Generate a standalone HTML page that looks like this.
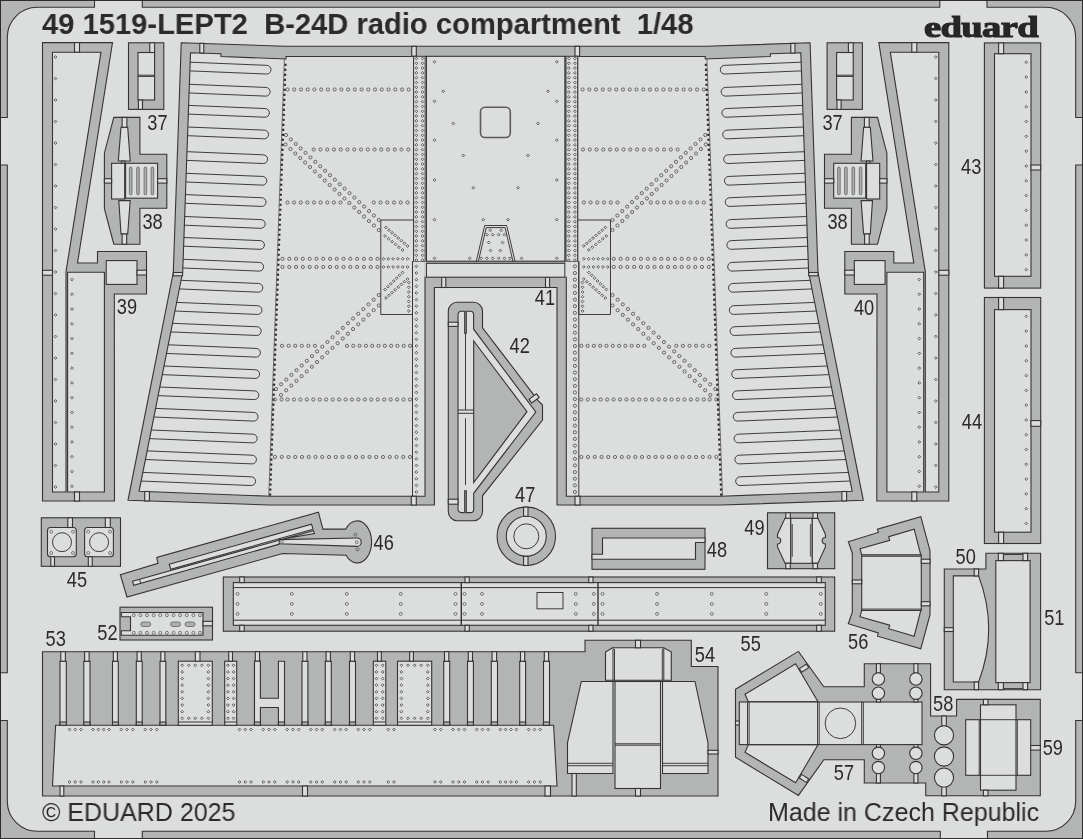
<!DOCTYPE html>
<html lang="en"><head><meta charset="utf-8"><title>49 1519-LEPT2 B-24D radio compartment 1/48</title>
<style>
html,body{margin:0;padding:0;background:#dcdddd;}
body{width:1083px;height:839px;overflow:hidden;position:relative;font-family:"Liberation Sans",sans-serif;}
svg{position:absolute;left:0;top:0;display:block;will-change:transform}
.title,.cp,.made,.logo{will-change:transform}
svg text{font-family:"Liberation Sans",sans-serif;fill:#2a2a2a}
.f{fill:#b3b5b4;stroke:#343434;stroke-width:1.1;stroke-linejoin:miter}
.p{fill:#dcdddd;stroke:#343434;stroke-width:1.1}
.t{fill:#dcdddd;stroke:none}
.t2{stroke:#dcdddd;stroke-width:1.6}
.l{stroke:#343434;stroke-width:1;fill:none}
.l2{stroke:#343434;stroke-width:1.4;fill:none}
.gl{stroke:#8c8e8d;stroke-width:1.3;fill:none}
.n{stroke:#343434;stroke-width:.95;fill:none}
.g{fill:#aeb0af;stroke:#555;stroke-width:.7}
.sq{fill:none;stroke:#5a5a5a;stroke-width:1.6}
.fold{stroke:#666;stroke-width:1.5}
.dash{stroke:#262626;stroke-width:2.3;stroke-dasharray:2.1 2.9;stroke-dashoffset:2.4}
.dl{stroke:#555;stroke-width:.8;fill:none}
.rx{stroke:#2c2c2c;stroke-width:.7;fill:none;stroke-linejoin:miter;stroke-miterlimit:10}
.rd circle{fill:none;stroke:#444;stroke-width:.45}
.ro circle{fill:none;stroke:#3a3a3a;stroke-width:.7}
.rs circle{fill:none;stroke:#3a3a3a;stroke-width:.6}
.title{position:absolute;left:41.6px;top:7.9px;transform-origin:0 0;transform:scaleX(.966);font-weight:bold;font-size:30.2px;line-height:32px;color:#2a2a2a;white-space:pre;letter-spacing:0}
.cp{position:absolute;left:42.4px;top:798px;transform-origin:0 0;transform:scaleX(.992);font-size:25.2px;line-height:28px;color:#2a2a2a;white-space:pre}
.made{position:absolute;left:768px;top:798px;transform-origin:0 0;transform:scaleX(.993);font-size:25.2px;line-height:28px;color:#2a2a2a;white-space:pre}
.logo{position:absolute;left:923.8px;top:9.2px;font-family:"Liberation Serif","DejaVu Serif",serif;font-weight:bold;font-size:29.2px;line-height:36px;color:#262626;transform-origin:0 0;transform:scale(1.322,1);-webkit-text-stroke:1.1px #262626;letter-spacing:-.5px;white-space:pre}
.bd{position:absolute;left:0;top:0;width:1081px;height:837px;border:1px solid #2c2c2c;pointer-events:none}
</style></head><body>
<svg width="1083" height="839" viewBox="0 0 1083 839">
<path class="f" d="M0,0 H94.5 V7.3 H37.5 A30,30 0 0 0 7.3,37.5 V117.5 H0 Z M1083,0 H987 V7.3 H1045.5 A30,30 0 0 1 1075.7,37.5 V117.5 H1083 Z M0,839 H94.5 V831.3 H37.5 A30,30 0 0 1 7.3,801.5 V720.5 H0 Z M1083,839 H987.5 V831.3 H1045.5 A30,30 0 0 0 1075.7,801.5 V720.5 H1083 Z M142.3,0 H939.8 V7.3 H142.3 Z M142.3,839 H940.3 V831.3 H142.3 Z M0,165 H7.3 V672.8 H0 Z M1083,165 H1075.7 V672.8 H1083 Z"/>
<polygon class="f" points="42.5,42.6 112.5,42.6 77.5,263 97.5,263 97.5,251.5 146.5,251.5 146.5,294 114.3,294 114.5,501 42.5,501"/>
<polygon class="p" points="52.5,52.2 101,52.2 66,271.8 66,492 52.5,492"/>
<polygon class="p" points="67.6,272.3 104.4,272.3 104.4,492 67.6,492"/>
<rect class="p" x="106.2" y="260.6" width="30.8" height="23.8"/>
<rect class="p" x="42.5" y="270.3" width="10" height="4.9"/>
<rect class="p" x="74.5" y="42.6" width="5" height="9.6"/>
<rect class="p" x="74.5" y="492" width="5" height="9"/>
<rect class="p" x="137" y="270.2" width="9.5" height="4.8"/>
<polygon class="f" points="113.8,117.4 139.9,117.4 139.9,154.3 166.8,154.3 166.8,208.2 139.9,208.2 139.9,244.2 113.8,244.2 104.4,208.7 104.4,153.2"/>
<polygon class="p" points="121,127.2 127.7,127.2 130.2,161 118.3,161"/>
<polygon class="p" points="118.8,200.6 130.2,200.6 127.7,234 121,234"/>
<rect class="p" x="121.5" y="161" width="3.3" height="2.3"/>
<rect class="p" x="111.6" y="163.3" width="13.1" height="35.7"/>
<rect class="p" x="125.6" y="163.3" width="32" height="34.9"/>
<rect class="g" x="129.4" y="167" width="2.6" height="27.8" rx="1.3"/>
<rect class="g" x="136.7" y="167" width="2.6" height="27.8" rx="1.3"/>
<rect class="g" x="144.1" y="167" width="2.6" height="27.8" rx="1.3"/>
<rect class="g" x="151.1" y="167" width="2.6" height="27.8" rx="1.3"/>
<rect class="p" x="122.1" y="117.4" width="4.8" height="9.8"/>
<rect class="p" x="122.1" y="234" width="4.6" height="10.2"/>
<rect class="p" x="104.4" y="178.7" width="7.2" height="4.4"/>
<rect class="p" x="157.6" y="178.7" width="9.2" height="4.4"/>
<polygon class="f" points="948.8,42.6 878.8,42.6 913.8,263 893.8,263 893.8,251.5 844.8,251.5 844.8,294 877,294 876.8,501 948.8,501"/>
<polygon class="p" points="938.8,52.2 890.3,52.2 925.3,271.8 925.3,492 938.8,492"/>
<polygon class="p" points="923.7,272.3 886.9,272.3 886.9,492 923.7,492"/>
<rect class="p" x="854.3" y="260.6" width="30.8" height="23.8"/>
<rect class="p" x="938.8" y="270.3" width="10" height="4.9"/>
<rect class="p" x="911.8" y="42.6" width="5" height="9.6"/>
<rect class="p" x="911.8" y="492" width="5" height="9"/>
<rect class="p" x="844.8" y="270.2" width="9.5" height="4.8"/>
<polygon class="f" points="877.5,117.4 851.4,117.4 851.4,154.3 824.5,154.3 824.5,208.2 851.4,208.2 851.4,244.2 877.5,244.2 886.9,208.7 886.9,153.2"/>
<polygon class="p" points="870.3,127.2 863.6,127.2 861.1,161 873,161"/>
<polygon class="p" points="872.5,200.6 861.1,200.6 863.6,234 870.3,234"/>
<rect class="p" x="866.5" y="161" width="3.3" height="2.3"/>
<rect class="p" x="866.6" y="163.3" width="13.1" height="35.7"/>
<rect class="p" x="833.7" y="163.3" width="32" height="34.9"/>
<rect class="g" x="859.3" y="167" width="2.6" height="27.8" rx="1.3"/>
<rect class="g" x="852" y="167" width="2.6" height="27.8" rx="1.3"/>
<rect class="g" x="844.6" y="167" width="2.6" height="27.8" rx="1.3"/>
<rect class="g" x="837.6" y="167" width="2.6" height="27.8" rx="1.3"/>
<rect class="p" x="864.4" y="117.4" width="4.8" height="9.8"/>
<rect class="p" x="864.6" y="234" width="4.6" height="10.2"/>
<rect class="p" x="879.7" y="178.7" width="7.2" height="4.4"/>
<rect class="p" x="824.5" y="178.7" width="9.2" height="4.4"/>
<rect class="f" x="128.5" y="42.8" width="35.3" height="66.6"/>
<rect class="p" x="138" y="52.5" width="16.6" height="47.5"/>
<line class="l" x1="138" y1="75.2" x2="154.6" y2="75.2"/>
<line class="l" x1="138" y1="76.4" x2="154.6" y2="76.4"/>
<rect class="p" x="149.8" y="42.8" width="4.8" height="9.7"/>
<rect class="p" x="138.4" y="100" width="4.1" height="9.4"/>
<rect class="f" x="827.1" y="42.8" width="35.3" height="66.6"/>
<rect class="p" x="836.6" y="52.5" width="16.6" height="47.5"/>
<line class="l" x1="836.6" y1="75.2" x2="853.2" y2="75.2"/>
<line class="l" x1="836.6" y1="76.4" x2="853.2" y2="76.4"/>
<rect class="p" x="848.4" y="42.8" width="4.8" height="9.7"/>
<rect class="p" x="837" y="100" width="4.1" height="9.4"/>
<polygon class="f" points="181.25,42.75 285,46.3 706.3,46.3 810.05,42.75 818,272.5 863.3,500.3 721.3,505 557,505 557,287.5 434.4,287.5 434.4,505 270,505 128,500.3 173.3,272.5"/>
<polygon class="p" points="190.5,52.75 221,53.75 221,56.5 286,59 286,56.5 413.7,56.5 413.7,261.2 425,261.2 425,496.25 270.4,496.25 139.1,491.3 182.7,272"/>
<rect class="p" x="199.8" y="43.3" width="4" height="9.7"/>
<rect class="p" x="411.7" y="46.3" width="4.6" height="9.9"/>
<rect class="p" x="173.3" y="272.5" width="9.3" height="3.3"/>
<rect class="p" x="144.7" y="491.5" width="4.7" height="9.4"/>
<rect class="p" x="411.3" y="496.25" width="5" height="8.75"/>
<rect class="p" x="441.7" y="277.2" width="4.1" height="10.3"/>
<line class="dash" x1="285.52" y1="61.2" x2="270" y2="495.8"/>
<line class="dl" x1="284.4" y1="58.9" x2="268.8" y2="495.8"/>
<path class="n" d="M190.16,62.2 L266.64,65.34 A4.35,4.35 0 0 1 266.64,74.04 L189.85,70.89"/>
<path class="n" d="M189.38,84.3 L265.81,87.43 A4.35,4.35 0 0 1 265.81,96.13 L189.07,92.99"/>
<path class="n" d="M188.63,105.4 L265.02,108.53 A4.35,4.35 0 0 1 265.02,117.23 L188.32,114.09"/>
<path class="n" d="M187.86,127 L264.21,130.13 A4.35,4.35 0 0 1 264.21,138.83 L187.55,135.69"/>
<path class="n" d="M186.98,151.7 L263.29,154.83 A4.35,4.35 0 0 1 263.29,163.53 L186.67,160.39"/>
<path class="n" d="M186.21,173.3 L262.48,176.43 A4.35,4.35 0 0 1 262.48,185.13 L185.9,181.99"/>
<path class="n" d="M185.45,194.6 L261.68,197.73 A4.35,4.35 0 0 1 261.68,206.43 L185.14,203.29"/>
<path class="n" d="M184.67,216.5 L260.86,219.62 A4.35,4.35 0 0 1 260.86,228.32 L184.36,225.19"/>
<path class="n" d="M183.93,237.5 L260.07,240.62 A4.35,4.35 0 0 1 260.07,249.32 L183.62,246.19"/>
<path class="n" d="M183.15,259.3 L259.25,262.42 A4.35,4.35 0 0 1 259.25,271.12 L182.84,267.99"/>
<path class="n" d="M181.05,280.3 L258.46,283.47 A4.35,4.35 0 0 1 258.46,292.17 L179.32,288.93"/>
<path class="n" d="M176.66,302.4 L257.63,305.72 A4.35,4.35 0 0 1 257.63,314.42 L174.93,311.03"/>
<path class="n" d="M172.5,323.3 L256.85,326.76 A4.35,4.35 0 0 1 256.85,335.46 L170.77,331.93"/>
<path class="n" d="M168.23,344.8 L256.04,348.4 A4.35,4.35 0 0 1 256.04,357.1 L166.5,353.43"/>
<path class="n" d="M164.01,366 L255.25,369.74 A4.35,4.35 0 0 1 255.25,378.44 L162.28,374.63"/>
<path class="n" d="M159.84,387 L254.46,390.88 A4.35,4.35 0 0 1 254.46,399.58 L158.11,395.63"/>
<path class="n" d="M155.58,408.4 L253.66,412.42 A4.35,4.35 0 0 1 253.66,421.12 L153.85,417.03"/>
<path class="n" d="M151.29,430 L252.85,434.16 A4.35,4.35 0 0 1 252.85,442.86 L149.56,438.63"/>
<path class="n" d="M147.13,450.9 L252.07,455.2 A4.35,4.35 0 0 1 252.07,463.9 L145.41,459.53"/>
<path class="n" d="M142.86,472.4 L251.26,476.84 A4.35,4.35 0 0 1 251.26,485.54 L141.13,481.03"/>
<path class="n" d="M413.7,220 L380.8,220 M380.8,220 L380.8,314.5 L412.5,314.5 L412.5,261.2"/>
<rect class="t" x="413.7" y="56.3" width="12.7" height="204.9"/>
<line class="n" x1="413.6" y1="56.3" x2="413.6" y2="261.2"/>
<line class="gl" x1="424.9" y1="56.3" x2="424.9" y2="261.2"/>
<line class="l2" x1="426.3" y1="56.3" x2="426.3" y2="261.2"/>
<line class="l" x1="413.7" y1="56.3" x2="426.4" y2="56.3"/>
<line class="n" x1="412.5" y1="261.2" x2="412.5" y2="496.25"/>
<polygon class="p" points="800.8,52.75 770.3,53.75 770.3,56.5 705.3,59 705.3,56.5 577.6,56.5 577.6,261.2 566.3,261.2 566.3,496.25 720.9,496.25 852.2,491.3 808.6,272"/>
<rect class="p" x="790.8" y="43.4" width="4.2" height="9.6"/>
<rect class="p" x="575" y="46.3" width="4.6" height="9.9"/>
<rect class="p" x="808.7" y="272.5" width="9.3" height="3.3"/>
<rect class="p" x="841.9" y="491.5" width="4.7" height="9.4"/>
<rect class="p" x="575" y="496.25" width="5" height="8.75"/>
<rect class="p" x="545.5" y="277.2" width="4.1" height="10.3"/>
<line class="dash" x1="705.78" y1="61.2" x2="721.3" y2="495.8"/>
<line class="dl" x1="706.9" y1="58.9" x2="722.5" y2="495.8"/>
<path class="n" d="M801.14,62.2 L724.66,65.34 A4.35,4.35 0 0 0 724.66,74.04 L801.45,70.89"/>
<path class="n" d="M801.92,84.3 L725.49,87.43 A4.35,4.35 0 0 0 725.49,96.13 L802.23,92.99"/>
<path class="n" d="M802.67,105.4 L726.28,108.53 A4.35,4.35 0 0 0 726.28,117.23 L802.98,114.09"/>
<path class="n" d="M803.44,127 L727.09,130.13 A4.35,4.35 0 0 0 727.09,138.83 L803.75,135.69"/>
<path class="n" d="M804.32,151.7 L728.01,154.83 A4.35,4.35 0 0 0 728.01,163.53 L804.63,160.39"/>
<path class="n" d="M805.09,173.3 L728.82,176.43 A4.35,4.35 0 0 0 728.82,185.13 L805.4,181.99"/>
<path class="n" d="M805.85,194.6 L729.62,197.73 A4.35,4.35 0 0 0 729.62,206.43 L806.16,203.29"/>
<path class="n" d="M806.63,216.5 L730.44,219.62 A4.35,4.35 0 0 0 730.44,228.32 L806.94,225.19"/>
<path class="n" d="M807.37,237.5 L731.23,240.62 A4.35,4.35 0 0 0 731.23,249.32 L807.68,246.19"/>
<path class="n" d="M808.15,259.3 L732.05,262.42 A4.35,4.35 0 0 0 732.05,271.12 L808.46,267.99"/>
<path class="n" d="M810.25,280.3 L732.84,283.47 A4.35,4.35 0 0 0 732.84,292.17 L811.98,288.93"/>
<path class="n" d="M814.64,302.4 L733.66,305.72 A4.35,4.35 0 0 0 733.66,314.42 L816.37,311.03"/>
<path class="n" d="M818.8,323.3 L734.45,326.76 A4.35,4.35 0 0 0 734.45,335.46 L820.53,331.93"/>
<path class="n" d="M823.07,344.8 L735.25,348.4 A4.35,4.35 0 0 0 735.25,357.1 L824.8,353.43"/>
<path class="n" d="M827.29,366 L736.05,369.74 A4.35,4.35 0 0 0 736.05,378.44 L829.02,374.63"/>
<path class="n" d="M831.46,387 L736.84,390.88 A4.35,4.35 0 0 0 736.84,399.58 L833.19,395.63"/>
<path class="n" d="M835.72,408.4 L737.64,412.42 A4.35,4.35 0 0 0 737.64,421.12 L837.45,417.03"/>
<path class="n" d="M840.01,430 L738.45,434.16 A4.35,4.35 0 0 0 738.45,442.86 L841.74,438.63"/>
<path class="n" d="M844.17,450.9 L739.23,455.2 A4.35,4.35 0 0 0 739.23,463.9 L845.89,459.53"/>
<path class="n" d="M848.44,472.4 L740.04,476.84 A4.35,4.35 0 0 0 740.04,485.54 L850.17,481.03"/>
<path class="n" d="M577.6,220 L610.5,220 M610.5,220 L610.5,314.5 L578.8,314.5 L578.8,261.2"/>
<rect class="t" x="564.9" y="56.3" width="12.7" height="204.9"/>
<line class="n" x1="577.7" y1="56.3" x2="577.7" y2="261.2"/>
<line class="gl" x1="566.4" y1="56.3" x2="566.4" y2="261.2"/>
<line class="l2" x1="565" y1="56.3" x2="565" y2="261.2"/>
<line class="l" x1="577.6" y1="56.3" x2="564.9" y2="56.3"/>
<line class="n" x1="578.8" y1="261.2" x2="578.8" y2="496.25"/>
<rect class="p" x="426.4" y="56.3" width="138.5" height="204.9"/>
<rect class="p" x="426.4" y="263.3" width="138.5" height="13.9"/>
<rect class="t" x="424.2" y="262" width="1.6" height="14.7"/>
<rect class="t" x="565.5" y="262" width="1.6" height="14.7"/>
<rect class="sq" x="480.5" y="107.2" width="29.8" height="30.3" rx="4.5"/>
<path class="n" d="M476.3,261.2 L484.7,225.5 L506.7,225.5 L515,261.2 M478.4,261.2 L486.3,227.6 L505.1,227.6 L512.9,261.2"/>
<path class="f" d="M448.3,311.2 A9,9 0 0 1 457.3,302.2 L473.5,302.2 A9,9 0 0 1 482.5,311.2 L482.5,327.8 L538.3,400.8 L542.5,405 L542.5,420 L482.5,495.8 L482.5,511.8 A9,9 0 0 1 473.5,520.8 L457.3,520.8 A9,9 0 0 1 448.3,511.8 Z"/>
<path class="p" d="M458,314.5 A3.3,3.3 0 0 1 461.3,311.2 L464.7,311.2 L464.7,333.3 L466.3,333.3 L466.3,311.2 L470.2,311.2 A3.4,3.4 0 0 1 473.6,314.6 L473.6,329.2 L535.8,412 L473.7,493.3 L473.7,509.2 A3.4,3.4 0 0 1 470.3,512.6 L466.3,512.6 L466.3,490.8 L464.7,490.8 L464.7,512.6 L461.3,512.6 A3.3,3.3 0 0 1 458,509.3 Z"/>
<polygon class="f" points="473.7,341 527,411.7 473.7,482.5"/>
<line class="l" x1="458" y1="410" x2="473.7" y2="410"/>
<line class="l" x1="458" y1="413.3" x2="473.7" y2="413.3"/>
<line class="n" x1="465.5" y1="418.3" x2="465.5" y2="485"/>
<line class="n" x1="465.5" y1="333.3" x2="465.5" y2="410"/>
<rect class="p" x="448.3" y="322.2" width="9.7" height="4.2"/>
<rect class="p" x="448.3" y="499.2" width="9.7" height="5"/>
<path class="p" d="M529,399.4 L536.4,393.8 L539.2,397.4 L531.8,403 Z"/>
<circle class="f" cx="526.3" cy="536.3" r="29.2"/>
<circle class="p" cx="526.3" cy="536.3" r="20"/>
<circle class="n" cx="526.3" cy="536.3" r="12.5"/>
<rect class="p" x="523.6" y="507.1" width="4.4" height="9.2"/>
<rect class="p" x="523.6" y="556.3" width="4.4" height="9.2"/>
<rect class="f" x="592" y="528.3" width="113" height="41"/>
<polygon class="p" points="592,554.3 602.5,554.3 602.5,538 705,538 705,542.5 695.5,542.5 695.5,559.3 592,559.3"/>
<rect class="f" x="767.5" y="512.8" width="67.2" height="55.9"/>
<path class="p" d="M790.8,518.3 L785,518.3 L777.5,534.2 L777.5,537.5 A3.2,3.2 0 0 1 777.5,544 L777.5,546.9 L785,563.3 L790.8,563.3 Z"/>
<path class="p" d="M812.1,518.3 L817.9,518.3 L825.4,534.2 L825.4,537.5 A3.2,3.2 0 0 0 825.4,544 L825.4,546.9 L817.9,563.3 L812.1,563.3 Z"/>
<rect class="p" x="790.8" y="518.3" width="21.3" height="45"/>
<line class="fold" x1="792.2" y1="524" x2="792.2" y2="556.7"/>
<line class="fold" x1="810.6" y1="524" x2="810.6" y2="556.7"/>
<rect class="p" x="785.8" y="512.8" width="4.5" height="5.5"/>
<rect class="p" x="785.8" y="563.3" width="4.5" height="5.4"/>
<rect class="p" x="813" y="512.8" width="4.5" height="5.5"/>
<rect class="p" x="813" y="563.3" width="4.5" height="5.4"/>
<rect class="f" x="223.3" y="577" width="611.4" height="54.2"/>
<rect class="p" x="233.3" y="582.6" width="592" height="42.7"/>
<line class="l" x1="233.3" y1="587.6" x2="825.3" y2="587.6"/>
<line class="l" x1="233.3" y1="620.2" x2="825.3" y2="620.2"/>
<rect class="p" x="239.7" y="577" width="4.5" height="5.6"/>
<rect class="p" x="239.7" y="625.3" width="4.5" height="5.9"/>
<rect class="p" x="465" y="577" width="4.3" height="5.6"/>
<rect class="p" x="465" y="625.3" width="4.3" height="5.9"/>
<rect class="p" x="588.8" y="577" width="4.2" height="5.6"/>
<rect class="p" x="588.8" y="625.3" width="4.2" height="5.9"/>
<rect class="p" x="816.7" y="577" width="4.6" height="5.6"/>
<rect class="p" x="816.7" y="625.3" width="4.6" height="5.9"/>
<line class="l2" x1="461.3" y1="582.6" x2="461.3" y2="625.3"/>
<line class="l2" x1="598" y1="582.6" x2="598" y2="625.3"/>
<rect class="n" x="537" y="592.5" width="26" height="16.3"/>
<rect class="f" x="41.3" y="517.8" width="79.2" height="48.5"/>
<rect class="p" x="47.5" y="527.5" width="28.8" height="29.2" rx="3"/>
<circle class="n" cx="62" cy="542.2" r="9.5"/>
<rect class="p" x="84.6" y="527.5" width="28.8" height="29.2" rx="3"/>
<circle class="n" cx="99.1" cy="542.2" r="9.5"/>
<rect class="p" x="67.8" y="517.8" width="4.7" height="9.7"/>
<rect class="p" x="50.8" y="556.7" width="3.7" height="9.6"/>
<rect class="p" x="105.3" y="517.8" width="5" height="9.7"/>
<rect class="p" x="88.3" y="556.7" width="3.9" height="9.6"/>
<rect class="f" x="120" y="607.2" width="92.5" height="32.8"/>
<polygon class="p" points="121.3,612.5 203,612.5 203,635.3 121.3,635.3 121.3,630.8 130.5,630.8 130.5,616.7 121.3,616.7"/>
<rect class="p" x="203" y="621.3" width="9.5" height="4.5"/>
<rect class="g" x="140.8" y="622" width="10" height="4.5" rx="2.25"/>
<rect class="g" x="170.5" y="622" width="10" height="4.5" rx="2.25"/>
<rect class="g" x="185" y="622" width="10" height="4.5" rx="2.25"/>
<path class="f" d="M120.3,574.7 L158,563.3 L156.7,557.5 L318.4,512.2 L322.9,529.1 L345.8,529.1 A14.4,21 0 1 1 346.1,555.3 L282.7,553.5 L127,597 Z"/>
<polygon class="p" points="169.2,564.2 311.5,524.2 313,529.2 170.7,569.2"/>
<polygon class="p" points="132.5,581.2 313.4,530.6 314.5,533.6 287,538.2 278.6,544.4 133.7,585.3"/>
<path class="p" d="M279.2,539.6 L357,538 A4.2,4.2 0 0 1 357,546.4 L279.2,543.7 Z"/>
<line class="n" x1="139.6" y1="579.3" x2="140.6" y2="583.2"/>
<polygon class="f" points="42.5,651.7 585,651.7 585,640.3 691.3,640.3 691.3,666.5 718,666.5 718,796 42.5,796"/>
<polygon class="p" points="55.6,725.3 553.6,725.3 557,786 52.5,786"/>
<rect class="p" x="60" y="661.2" width="6.3" height="64.1"/>
<rect class="f" x="60" y="722" width="6.3" height="3.3"/>
<rect class="p" x="60.8" y="651.7" width="4.6" height="9.5"/>
<rect class="p" x="83.8" y="661.2" width="6.2" height="64.1"/>
<rect class="f" x="83.8" y="722" width="6.2" height="3.3"/>
<rect class="p" x="84.6" y="651.7" width="4.5" height="9.5"/>
<rect class="p" x="112.5" y="661.2" width="5.8" height="64.1"/>
<rect class="f" x="112.5" y="722" width="5.8" height="3.3"/>
<rect class="p" x="113.3" y="651.7" width="4.1" height="9.5"/>
<rect class="p" x="136.3" y="661.2" width="5.9" height="64.1"/>
<rect class="f" x="136.3" y="722" width="5.9" height="3.3"/>
<rect class="p" x="137.1" y="651.7" width="4.2" height="9.5"/>
<rect class="p" x="160" y="661.2" width="5.8" height="64.1"/>
<rect class="f" x="160" y="722" width="5.8" height="3.3"/>
<rect class="p" x="160.8" y="651.7" width="4.1" height="9.5"/>
<rect class="p" x="254.5" y="661.2" width="5.9" height="64.1"/>
<rect class="f" x="254.5" y="722" width="5.9" height="3.3"/>
<rect class="p" x="255.3" y="651.7" width="4.2" height="9.5"/>
<rect class="p" x="302" y="661.2" width="5.9" height="64.1"/>
<rect class="f" x="302" y="722" width="5.9" height="3.3"/>
<rect class="p" x="302.8" y="651.7" width="4.2" height="9.5"/>
<rect class="p" x="325.3" y="661.2" width="6" height="64.1"/>
<rect class="f" x="325.3" y="722" width="6" height="3.3"/>
<rect class="p" x="326.1" y="651.7" width="4.3" height="9.5"/>
<rect class="p" x="349.5" y="661.2" width="6" height="64.1"/>
<rect class="f" x="349.5" y="722" width="6" height="3.3"/>
<rect class="p" x="350.3" y="651.7" width="4.3" height="9.5"/>
<rect class="p" x="443.7" y="661.2" width="6" height="64.1"/>
<rect class="f" x="443.7" y="722" width="6" height="3.3"/>
<rect class="p" x="444.5" y="651.7" width="4.3" height="9.5"/>
<rect class="p" x="467.5" y="661.2" width="5.9" height="64.1"/>
<rect class="f" x="467.5" y="722" width="5.9" height="3.3"/>
<rect class="p" x="468.3" y="651.7" width="4.2" height="9.5"/>
<rect class="p" x="491.3" y="661.2" width="6.2" height="64.1"/>
<rect class="f" x="491.3" y="722" width="6.2" height="3.3"/>
<rect class="p" x="492.1" y="651.7" width="4.5" height="9.5"/>
<rect class="p" x="519.7" y="661.2" width="5.9" height="64.1"/>
<rect class="f" x="519.7" y="722" width="5.9" height="3.3"/>
<rect class="p" x="520.5" y="651.7" width="4.2" height="9.5"/>
<rect class="p" x="543.5" y="661.2" width="6" height="64.1"/>
<rect class="f" x="543.5" y="722" width="6" height="3.3"/>
<rect class="p" x="544.3" y="651.7" width="4.3" height="9.5"/>
<polygon class="p" points="254.5,661.2 260.4,661.2 260.4,698.3 278.4,698.3 278.4,661.2 284.5,661.2 284.5,725.3 278.4,725.3 278.4,707.5 260.4,707.5 260.4,725.3 254.5,725.3"/>
<rect class="f" x="254.5" y="722" width="5.9" height="3.3"/>
<rect class="f" x="278.4" y="722" width="6.1" height="3.3"/>
<rect class="p" x="178.3" y="661.2" width="34" height="64.1"/>
<line class="l" x1="178.3" y1="722" x2="212.3" y2="722"/>
<rect class="p" x="195.3" y="651.7" width="4.7" height="9.5"/>
<rect class="p" x="397.5" y="661.2" width="34.2" height="64.1"/>
<line class="l" x1="397.5" y1="722" x2="431.7" y2="722"/>
<rect class="p" x="409.7" y="651.7" width="3.7" height="9.5"/>
<rect class="p" x="224.7" y="661.2" width="12" height="64.1"/>
<line class="l" x1="224.7" y1="722" x2="236.7" y2="722"/>
<rect class="p" x="228.7" y="651.7" width="3.8" height="9.5"/>
<rect class="p" x="373.3" y="661.2" width="12.5" height="64.1"/>
<line class="l" x1="373.3" y1="722" x2="385.8" y2="722"/>
<rect class="p" x="377.5" y="651.7" width="3.8" height="9.5"/>
<rect class="p" x="60" y="786" width="3.8" height="10"/>
<rect class="p" x="302.5" y="786" width="5" height="10"/>
<rect class="p" x="545" y="786" width="5.5" height="10"/>
<polygon class="p" points="605.5,652 612.5,647.8 663.8,647.8 671.3,652 671.3,680.3 605.5,680.3"/>
<line class="l" x1="613" y1="647.8" x2="613" y2="680.3"/>
<line class="n" x1="614.5" y1="649" x2="614.5" y2="680.3"/>
<line class="l" x1="663.8" y1="647.8" x2="663.8" y2="680.3"/>
<line class="n" x1="662.3" y1="649" x2="662.3" y2="680.3"/>
<rect class="t" x="612" y="681.5" width="51.5" height="92"/>
<polygon class="p" points="581.3,681.5 613,681.5 613,773.5 567.5,773.5 567.5,742.8"/>
<polygon class="p" points="662.5,681.5 695,681.5 708,742.8 708,773.5 662.5,773.5"/>
<rect class="p" x="615" y="681.5" width="45.5" height="107"/>
<line class="l" x1="613" y1="681.5" x2="662.5" y2="681.5"/>
<line class="l" x1="615" y1="743.8" x2="660.5" y2="743.8"/>
<line class="n" x1="615" y1="745.2" x2="660.5" y2="745.2"/>
<line class="n" x1="567.5" y1="763.3" x2="613" y2="763.3"/>
<line class="n" x1="567.5" y1="765.7" x2="613" y2="765.7"/>
<line class="n" x1="662.5" y1="763.3" x2="708" y2="763.3"/>
<line class="n" x1="662.5" y1="765.7" x2="708" y2="765.7"/>
<rect class="p" x="635.5" y="640.3" width="5" height="7.5"/>
<rect class="p" x="635.5" y="788.5" width="5" height="7.5"/>
<rect class="p" x="572" y="773.5" width="4.3" height="22.5"/>
<rect class="p" x="708" y="750.3" width="10" height="3.7"/>
<polygon class="f" points="848.3,541.7 878.3,532.5 877.5,529.2 920.8,516.7 930,550.8 930,614.6 920.8,648.7 877.5,636.2 878.3,632.9 848.3,623.7 852.3,612.2 852.3,553.2"/>
<polygon class="p" points="860,548.7 889.7,540.3 888.7,536.7 914.2,529.2 920.8,555 861.7,555"/>
<polygon class="p" points="860,616.7 889.7,625.1 888.7,628.7 914.2,636.2 920.8,610.4 861.7,610.4"/>
<rect class="p" x="861.7" y="555" width="59.6" height="55.4"/>
<line class="n" x1="861.7" y1="556.3" x2="921.3" y2="556.3"/>
<line class="n" x1="861.7" y1="609.1" x2="921.3" y2="609.1"/>
<rect class="p" x="852.3" y="580" width="9.4" height="3.8"/>
<rect class="p" x="921.3" y="559.2" width="8.7" height="4.1"/>
<rect class="p" x="921.3" y="601.7" width="8.7" height="4.1"/>
<rect class="f" x="984.4" y="42.9" width="56.3" height="245.2"/>
<rect class="p" x="994.5" y="53.7" width="36.5" height="222.6"/>
<rect class="p" x="998.6" y="42.9" width="5" height="10.8"/>
<rect class="p" x="998.6" y="276.3" width="5" height="11.8"/>
<rect class="p" x="1031" y="165" width="9.7" height="5"/>
<rect class="f" x="984.4" y="297.5" width="56.3" height="246"/>
<rect class="p" x="994.5" y="309.6" width="36.5" height="222.6"/>
<rect class="p" x="998.6" y="297.5" width="5" height="12.1"/>
<rect class="p" x="998.6" y="532.2" width="5" height="11.3"/>
<rect class="p" x="1031" y="420.6" width="9.7" height="5.7"/>
<polygon class="f" points="944.3,569 985.9,569 985.9,553.3 1040.6,553.3 1040.6,689.7 944.3,689.7"/>
<path class="p" d="M953.3,575.9 L978.6,575.9 Q998.8,629 978.6,682 L953.3,682 Z"/>
<rect class="p" x="974.2" y="569" width="4.4" height="6.9"/>
<rect class="p" x="974.2" y="682" width="4.4" height="7.7"/>
<rect class="p" x="944.3" y="627.7" width="9" height="3.8"/>
<rect class="p" x="995.8" y="560.6" width="34.3" height="122"/>
<rect class="p" x="998.3" y="553.3" width="5.1" height="7.3"/>
<rect class="p" x="998.3" y="682.6" width="5.1" height="7.1"/>
<rect class="p" x="1023" y="553.3" width="4.6" height="7.3"/>
<rect class="p" x="1023" y="682.6" width="4.6" height="7.1"/>
<line class="n" x1="1003.4" y1="554.5" x2="1023" y2="554.5"/>
<line class="n" x1="1003.4" y1="688.6" x2="1023" y2="688.6"/>
<polygon class="f" points="735.5,689.2 798.4,651.4 823.8,686.7 864.3,686.7 864.3,663.7 930.6,663.7 930.6,716 956.6,716 956.6,699.4 1040.3,699.4 1040.3,795.8 925.7,795.8 925.7,783 864.3,783 864.3,759.8 823.8,759.8 798.4,795.4 735.5,757.3"/>
<polygon class="p" points="745,694.3 795.6,663.8 818,701.8 748.3,701.8"/>
<polygon class="p" points="745,752.3 795.6,782.8 818,744.8 748.3,744.8"/>
<rect class="p" x="739.3" y="702" width="182.7" height="42.6"/>
<line class="n" x1="747.5" y1="702" x2="747.5" y2="744.6"/>
<line class="n" x1="749.1" y1="702" x2="749.1" y2="744.6"/>
<line class="n" x1="817.6" y1="702" x2="817.6" y2="744.6"/>
<line class="n" x1="819.2" y1="702" x2="819.2" y2="744.6"/>
<line class="n" x1="861.7" y1="702" x2="861.7" y2="744.6"/>
<line class="n" x1="863.3" y1="702" x2="863.3" y2="744.6"/>
<circle class="n" cx="840.4" cy="723.3" r="15.3"/>
<rect class="p" x="735.5" y="721" width="3.8" height="4"/>
<path class="p" d="M799.3,668.6 L806.5,664 L808.7,667.6 L801.6,672.2 Z"/>
<path class="p" d="M799.3,778 L806.5,782.6 L808.7,779 L801.6,774.4 Z"/>
<rect class="p" x="876.4" y="663.7" width="4" height="9.3"/>
<rect class="p" x="876.4" y="699" width="4" height="3"/>
<rect class="p" x="876.4" y="744.6" width="4" height="2.9"/>
<rect class="p" x="876.4" y="773.5" width="4" height="9.5"/>
<circle class="p" cx="878.4" cy="679" r="6.2"/>
<circle class="p" cx="878.4" cy="693.2" r="6.2"/>
<circle class="p" cx="878.4" cy="753.3" r="6.2"/>
<circle class="p" cx="878.4" cy="767.6" r="6.2"/>
<rect class="p" x="913.9" y="663.7" width="4" height="9.3"/>
<rect class="p" x="913.9" y="699" width="4" height="3"/>
<rect class="p" x="913.9" y="744.6" width="4" height="2.9"/>
<rect class="p" x="913.9" y="773.5" width="4" height="9.5"/>
<circle class="p" cx="915.9" cy="679" r="6.2"/>
<circle class="p" cx="915.9" cy="693.2" r="6.2"/>
<circle class="p" cx="915.9" cy="753.3" r="6.2"/>
<circle class="p" cx="915.9" cy="767.6" r="6.2"/>
<rect class="p" x="941.8" y="716" width="4.5" height="10"/>
<rect class="p" x="941.8" y="786.5" width="4.5" height="9.3"/>
<circle class="p" cx="944" cy="735.3" r="9.6"/>
<circle class="p" cx="944" cy="756.5" r="9.6"/>
<circle class="p" cx="944" cy="777.6" r="9.6"/>
<rect class="p" x="965.7" y="719.7" width="65" height="55.6"/>
<rect class="p" x="980.5" y="704.8" width="35.5" height="85.4"/>
<line class="n" x1="980.5" y1="719.7" x2="1016" y2="719.7"/>
<line class="n" x1="980.5" y1="775.3" x2="1016" y2="775.3"/>
<line class="n" x1="1017.3" y1="719.7" x2="1017.3" y2="775.3"/>
<line class="n" x1="979.2" y1="719.7" x2="979.2" y2="775.3"/>
<rect class="p" x="983.4" y="699.4" width="4.6" height="5.4"/>
<rect class="p" x="983.4" y="790.2" width="4.6" height="5.6"/>
<rect class="p" x="1030.7" y="745.5" width="9.6" height="4.6"/>
<path class="rx" d="M54.1,57l1.4,-1.4l1.4,1.4l-1.4,1.4zM54.1,78.5l1.4,-1.4l1.4,1.4l-1.4,1.4zM54.1,100l1.4,-1.4l1.4,1.4l-1.4,1.4zM54.1,121.5l1.4,-1.4l1.4,1.4l-1.4,1.4zM54.1,143l1.4,-1.4l1.4,1.4l-1.4,1.4zM54.1,164.5l1.4,-1.4l1.4,1.4l-1.4,1.4zM54.1,186l1.4,-1.4l1.4,1.4l-1.4,1.4zM54.1,207.5l1.4,-1.4l1.4,1.4l-1.4,1.4zM54.1,229l1.4,-1.4l1.4,1.4l-1.4,1.4zM54.1,250.5l1.4,-1.4l1.4,1.4l-1.4,1.4zM54.1,272l1.4,-1.4l1.4,1.4l-1.4,1.4zM54.1,293.5l1.4,-1.4l1.4,1.4l-1.4,1.4zM54.1,315l1.4,-1.4l1.4,1.4l-1.4,1.4zM54.1,336.5l1.4,-1.4l1.4,1.4l-1.4,1.4zM54.1,358l1.4,-1.4l1.4,1.4l-1.4,1.4zM54.1,379.5l1.4,-1.4l1.4,1.4l-1.4,1.4zM54.1,401l1.4,-1.4l1.4,1.4l-1.4,1.4zM54.1,422.5l1.4,-1.4l1.4,1.4l-1.4,1.4zM54.1,444l1.4,-1.4l1.4,1.4l-1.4,1.4zM54.1,465.5l1.4,-1.4l1.4,1.4l-1.4,1.4zM54.1,487l1.4,-1.4l1.4,1.4l-1.4,1.4zM70.6,279.5l1.4,-1.4l1.4,1.4l-1.4,1.4zM70.6,294.27l1.4,-1.4l1.4,1.4l-1.4,1.4zM70.6,309.04l1.4,-1.4l1.4,1.4l-1.4,1.4zM70.6,323.81l1.4,-1.4l1.4,1.4l-1.4,1.4zM70.6,338.58l1.4,-1.4l1.4,1.4l-1.4,1.4zM70.6,353.35l1.4,-1.4l1.4,1.4l-1.4,1.4zM70.6,368.12l1.4,-1.4l1.4,1.4l-1.4,1.4zM70.6,382.89l1.4,-1.4l1.4,1.4l-1.4,1.4zM70.6,397.66l1.4,-1.4l1.4,1.4l-1.4,1.4zM70.6,412.43l1.4,-1.4l1.4,1.4l-1.4,1.4zM70.6,427.2l1.4,-1.4l1.4,1.4l-1.4,1.4zM70.6,441.97l1.4,-1.4l1.4,1.4l-1.4,1.4zM70.6,456.74l1.4,-1.4l1.4,1.4l-1.4,1.4zM70.6,471.51l1.4,-1.4l1.4,1.4l-1.4,1.4zM70.6,486.28l1.4,-1.4l1.4,1.4l-1.4,1.4zM934.4,57l1.4,-1.4l1.4,1.4l-1.4,1.4zM934.4,78.5l1.4,-1.4l1.4,1.4l-1.4,1.4zM934.4,100l1.4,-1.4l1.4,1.4l-1.4,1.4zM934.4,121.5l1.4,-1.4l1.4,1.4l-1.4,1.4zM934.4,143l1.4,-1.4l1.4,1.4l-1.4,1.4zM934.4,164.5l1.4,-1.4l1.4,1.4l-1.4,1.4zM934.4,186l1.4,-1.4l1.4,1.4l-1.4,1.4zM934.4,207.5l1.4,-1.4l1.4,1.4l-1.4,1.4zM934.4,229l1.4,-1.4l1.4,1.4l-1.4,1.4zM934.4,250.5l1.4,-1.4l1.4,1.4l-1.4,1.4zM934.4,272l1.4,-1.4l1.4,1.4l-1.4,1.4zM934.4,293.5l1.4,-1.4l1.4,1.4l-1.4,1.4zM934.4,315l1.4,-1.4l1.4,1.4l-1.4,1.4zM934.4,336.5l1.4,-1.4l1.4,1.4l-1.4,1.4zM934.4,358l1.4,-1.4l1.4,1.4l-1.4,1.4zM934.4,379.5l1.4,-1.4l1.4,1.4l-1.4,1.4zM934.4,401l1.4,-1.4l1.4,1.4l-1.4,1.4zM934.4,422.5l1.4,-1.4l1.4,1.4l-1.4,1.4zM934.4,444l1.4,-1.4l1.4,1.4l-1.4,1.4zM934.4,465.5l1.4,-1.4l1.4,1.4l-1.4,1.4zM934.4,487l1.4,-1.4l1.4,1.4l-1.4,1.4zM917.9,279.5l1.4,-1.4l1.4,1.4l-1.4,1.4zM917.9,294.27l1.4,-1.4l1.4,1.4l-1.4,1.4zM917.9,309.04l1.4,-1.4l1.4,1.4l-1.4,1.4zM917.9,323.81l1.4,-1.4l1.4,1.4l-1.4,1.4zM917.9,338.58l1.4,-1.4l1.4,1.4l-1.4,1.4zM917.9,353.35l1.4,-1.4l1.4,1.4l-1.4,1.4zM917.9,368.12l1.4,-1.4l1.4,1.4l-1.4,1.4zM917.9,382.89l1.4,-1.4l1.4,1.4l-1.4,1.4zM917.9,397.66l1.4,-1.4l1.4,1.4l-1.4,1.4zM917.9,412.43l1.4,-1.4l1.4,1.4l-1.4,1.4zM917.9,427.2l1.4,-1.4l1.4,1.4l-1.4,1.4zM917.9,441.97l1.4,-1.4l1.4,1.4l-1.4,1.4zM917.9,456.74l1.4,-1.4l1.4,1.4l-1.4,1.4zM917.9,471.51l1.4,-1.4l1.4,1.4l-1.4,1.4zM917.9,486.28l1.4,-1.4l1.4,1.4l-1.4,1.4zM415,266.4l1.4,-1.4l1.4,1.4l-1.4,1.4zM415,273.04l1.4,-1.4l1.4,1.4l-1.4,1.4zM415,279.67l1.4,-1.4l1.4,1.4l-1.4,1.4zM415,286.31l1.4,-1.4l1.4,1.4l-1.4,1.4zM415,292.94l1.4,-1.4l1.4,1.4l-1.4,1.4zM415,299.58l1.4,-1.4l1.4,1.4l-1.4,1.4zM415,306.21l1.4,-1.4l1.4,1.4l-1.4,1.4zM415,312.85l1.4,-1.4l1.4,1.4l-1.4,1.4zM415,319.48l1.4,-1.4l1.4,1.4l-1.4,1.4zM415,326.12l1.4,-1.4l1.4,1.4l-1.4,1.4zM415,332.75l1.4,-1.4l1.4,1.4l-1.4,1.4zM415,339.39l1.4,-1.4l1.4,1.4l-1.4,1.4zM415,346.02l1.4,-1.4l1.4,1.4l-1.4,1.4zM415,352.66l1.4,-1.4l1.4,1.4l-1.4,1.4zM415,359.29l1.4,-1.4l1.4,1.4l-1.4,1.4zM415,365.93l1.4,-1.4l1.4,1.4l-1.4,1.4zM415,372.56l1.4,-1.4l1.4,1.4l-1.4,1.4zM415,379.2l1.4,-1.4l1.4,1.4l-1.4,1.4zM415,385.84l1.4,-1.4l1.4,1.4l-1.4,1.4zM415,392.47l1.4,-1.4l1.4,1.4l-1.4,1.4zM415,399.11l1.4,-1.4l1.4,1.4l-1.4,1.4zM415,405.74l1.4,-1.4l1.4,1.4l-1.4,1.4zM415,412.38l1.4,-1.4l1.4,1.4l-1.4,1.4zM415,419.01l1.4,-1.4l1.4,1.4l-1.4,1.4zM415,425.65l1.4,-1.4l1.4,1.4l-1.4,1.4zM415,432.28l1.4,-1.4l1.4,1.4l-1.4,1.4zM415,438.92l1.4,-1.4l1.4,1.4l-1.4,1.4zM415,445.55l1.4,-1.4l1.4,1.4l-1.4,1.4zM415,452.19l1.4,-1.4l1.4,1.4l-1.4,1.4zM415,458.82l1.4,-1.4l1.4,1.4l-1.4,1.4zM415,465.46l1.4,-1.4l1.4,1.4l-1.4,1.4zM415,472.09l1.4,-1.4l1.4,1.4l-1.4,1.4zM415,478.73l1.4,-1.4l1.4,1.4l-1.4,1.4zM415,485.36l1.4,-1.4l1.4,1.4l-1.4,1.4zM415,492l1.4,-1.4l1.4,1.4l-1.4,1.4zM384.6,227.5l1.4,-1.4l1.4,1.4l-1.4,1.4zM387.67,230.14l1.4,-1.4l1.4,1.4l-1.4,1.4zM390.74,232.79l1.4,-1.4l1.4,1.4l-1.4,1.4zM393.81,235.43l1.4,-1.4l1.4,1.4l-1.4,1.4zM396.89,238.07l1.4,-1.4l1.4,1.4l-1.4,1.4zM399.96,240.71l1.4,-1.4l1.4,1.4l-1.4,1.4zM403.03,243.36l1.4,-1.4l1.4,1.4l-1.4,1.4zM406.1,246l1.4,-1.4l1.4,1.4l-1.4,1.4zM383.6,236l1.4,-1.4l1.4,1.4l-1.4,1.4zM387.1,238.8l1.4,-1.4l1.4,1.4l-1.4,1.4zM390.6,241.6l1.4,-1.4l1.4,1.4l-1.4,1.4zM394.1,244.4l1.4,-1.4l1.4,1.4l-1.4,1.4zM397.6,247.2l1.4,-1.4l1.4,1.4l-1.4,1.4zM401.1,250l1.4,-1.4l1.4,1.4l-1.4,1.4zM401.1,272.5l1.4,-1.4l1.4,1.4l-1.4,1.4zM398.18,275.33l1.4,-1.4l1.4,1.4l-1.4,1.4zM395.27,278.17l1.4,-1.4l1.4,1.4l-1.4,1.4zM392.35,281l1.4,-1.4l1.4,1.4l-1.4,1.4zM389.43,283.83l1.4,-1.4l1.4,1.4l-1.4,1.4zM386.52,286.67l1.4,-1.4l1.4,1.4l-1.4,1.4zM383.6,289.5l1.4,-1.4l1.4,1.4l-1.4,1.4zM406.1,279l1.4,-1.4l1.4,1.4l-1.4,1.4zM403.03,281.71l1.4,-1.4l1.4,1.4l-1.4,1.4zM399.96,284.43l1.4,-1.4l1.4,1.4l-1.4,1.4zM396.89,287.14l1.4,-1.4l1.4,1.4l-1.4,1.4zM393.81,289.86l1.4,-1.4l1.4,1.4l-1.4,1.4zM390.74,292.57l1.4,-1.4l1.4,1.4l-1.4,1.4zM387.67,295.29l1.4,-1.4l1.4,1.4l-1.4,1.4zM384.6,298l1.4,-1.4l1.4,1.4l-1.4,1.4zM382.1,258.8l1.4,-1.4l1.4,1.4l-1.4,1.4zM382.1,267l1.4,-1.4l1.4,1.4l-1.4,1.4zM386.9,258.8l1.4,-1.4l1.4,1.4l-1.4,1.4zM386.9,267l1.4,-1.4l1.4,1.4l-1.4,1.4zM391.7,258.8l1.4,-1.4l1.4,1.4l-1.4,1.4zM391.7,267l1.4,-1.4l1.4,1.4l-1.4,1.4zM396.5,258.8l1.4,-1.4l1.4,1.4l-1.4,1.4zM396.5,267l1.4,-1.4l1.4,1.4l-1.4,1.4zM401.3,258.8l1.4,-1.4l1.4,1.4l-1.4,1.4zM401.3,267l1.4,-1.4l1.4,1.4l-1.4,1.4zM406.1,258.8l1.4,-1.4l1.4,1.4l-1.4,1.4zM406.1,267l1.4,-1.4l1.4,1.4l-1.4,1.4zM407.4,282.5l1.4,-1.4l1.4,1.4l-1.4,1.4zM407.4,287.25l1.4,-1.4l1.4,1.4l-1.4,1.4zM407.4,292l1.4,-1.4l1.4,1.4l-1.4,1.4zM407.4,296.75l1.4,-1.4l1.4,1.4l-1.4,1.4zM407.4,301.5l1.4,-1.4l1.4,1.4l-1.4,1.4zM407.4,306.25l1.4,-1.4l1.4,1.4l-1.4,1.4zM407.4,311l1.4,-1.4l1.4,1.4l-1.4,1.4zM415,58.5l1.4,-1.4l1.4,1.4l-1.4,1.4zM421.1,58.5l1.4,-1.4l1.4,1.4l-1.4,1.4zM415,63.3l1.4,-1.4l1.4,1.4l-1.4,1.4zM421.1,63.3l1.4,-1.4l1.4,1.4l-1.4,1.4zM415,68.1l1.4,-1.4l1.4,1.4l-1.4,1.4zM421.1,68.1l1.4,-1.4l1.4,1.4l-1.4,1.4zM415,72.9l1.4,-1.4l1.4,1.4l-1.4,1.4zM421.1,72.9l1.4,-1.4l1.4,1.4l-1.4,1.4zM415,77.7l1.4,-1.4l1.4,1.4l-1.4,1.4zM421.1,77.7l1.4,-1.4l1.4,1.4l-1.4,1.4zM415,82.5l1.4,-1.4l1.4,1.4l-1.4,1.4zM421.1,82.5l1.4,-1.4l1.4,1.4l-1.4,1.4zM415,87.3l1.4,-1.4l1.4,1.4l-1.4,1.4zM421.1,87.3l1.4,-1.4l1.4,1.4l-1.4,1.4zM415,92.1l1.4,-1.4l1.4,1.4l-1.4,1.4zM421.1,92.1l1.4,-1.4l1.4,1.4l-1.4,1.4zM415,96.9l1.4,-1.4l1.4,1.4l-1.4,1.4zM421.1,96.9l1.4,-1.4l1.4,1.4l-1.4,1.4zM415,101.7l1.4,-1.4l1.4,1.4l-1.4,1.4zM421.1,101.7l1.4,-1.4l1.4,1.4l-1.4,1.4zM415,106.5l1.4,-1.4l1.4,1.4l-1.4,1.4zM421.1,106.5l1.4,-1.4l1.4,1.4l-1.4,1.4zM415,111.3l1.4,-1.4l1.4,1.4l-1.4,1.4zM421.1,111.3l1.4,-1.4l1.4,1.4l-1.4,1.4zM415,116.1l1.4,-1.4l1.4,1.4l-1.4,1.4zM421.1,116.1l1.4,-1.4l1.4,1.4l-1.4,1.4zM415,120.9l1.4,-1.4l1.4,1.4l-1.4,1.4zM421.1,120.9l1.4,-1.4l1.4,1.4l-1.4,1.4zM415,125.7l1.4,-1.4l1.4,1.4l-1.4,1.4zM421.1,125.7l1.4,-1.4l1.4,1.4l-1.4,1.4zM415,130.5l1.4,-1.4l1.4,1.4l-1.4,1.4zM421.1,130.5l1.4,-1.4l1.4,1.4l-1.4,1.4zM415,135.3l1.4,-1.4l1.4,1.4l-1.4,1.4zM421.1,135.3l1.4,-1.4l1.4,1.4l-1.4,1.4zM415,140.1l1.4,-1.4l1.4,1.4l-1.4,1.4zM421.1,140.1l1.4,-1.4l1.4,1.4l-1.4,1.4zM415,144.9l1.4,-1.4l1.4,1.4l-1.4,1.4zM421.1,144.9l1.4,-1.4l1.4,1.4l-1.4,1.4zM415,149.7l1.4,-1.4l1.4,1.4l-1.4,1.4zM421.1,149.7l1.4,-1.4l1.4,1.4l-1.4,1.4zM415,154.5l1.4,-1.4l1.4,1.4l-1.4,1.4zM421.1,154.5l1.4,-1.4l1.4,1.4l-1.4,1.4zM415,159.3l1.4,-1.4l1.4,1.4l-1.4,1.4zM421.1,159.3l1.4,-1.4l1.4,1.4l-1.4,1.4zM415,164.1l1.4,-1.4l1.4,1.4l-1.4,1.4zM421.1,164.1l1.4,-1.4l1.4,1.4l-1.4,1.4zM415,168.9l1.4,-1.4l1.4,1.4l-1.4,1.4zM421.1,168.9l1.4,-1.4l1.4,1.4l-1.4,1.4zM415,173.7l1.4,-1.4l1.4,1.4l-1.4,1.4zM421.1,173.7l1.4,-1.4l1.4,1.4l-1.4,1.4zM415,178.5l1.4,-1.4l1.4,1.4l-1.4,1.4zM421.1,178.5l1.4,-1.4l1.4,1.4l-1.4,1.4zM415,183.3l1.4,-1.4l1.4,1.4l-1.4,1.4zM421.1,183.3l1.4,-1.4l1.4,1.4l-1.4,1.4zM415,188.1l1.4,-1.4l1.4,1.4l-1.4,1.4zM421.1,188.1l1.4,-1.4l1.4,1.4l-1.4,1.4zM415,192.9l1.4,-1.4l1.4,1.4l-1.4,1.4zM421.1,192.9l1.4,-1.4l1.4,1.4l-1.4,1.4zM415,197.7l1.4,-1.4l1.4,1.4l-1.4,1.4zM421.1,197.7l1.4,-1.4l1.4,1.4l-1.4,1.4zM415,202.5l1.4,-1.4l1.4,1.4l-1.4,1.4zM421.1,202.5l1.4,-1.4l1.4,1.4l-1.4,1.4zM415,207.3l1.4,-1.4l1.4,1.4l-1.4,1.4zM421.1,207.3l1.4,-1.4l1.4,1.4l-1.4,1.4zM415,212.1l1.4,-1.4l1.4,1.4l-1.4,1.4zM421.1,212.1l1.4,-1.4l1.4,1.4l-1.4,1.4zM415,216.9l1.4,-1.4l1.4,1.4l-1.4,1.4zM421.1,216.9l1.4,-1.4l1.4,1.4l-1.4,1.4zM415,221.7l1.4,-1.4l1.4,1.4l-1.4,1.4zM421.1,221.7l1.4,-1.4l1.4,1.4l-1.4,1.4zM415,226.5l1.4,-1.4l1.4,1.4l-1.4,1.4zM421.1,226.5l1.4,-1.4l1.4,1.4l-1.4,1.4zM415,231.3l1.4,-1.4l1.4,1.4l-1.4,1.4zM421.1,231.3l1.4,-1.4l1.4,1.4l-1.4,1.4zM415,236.1l1.4,-1.4l1.4,1.4l-1.4,1.4zM421.1,236.1l1.4,-1.4l1.4,1.4l-1.4,1.4zM415,240.9l1.4,-1.4l1.4,1.4l-1.4,1.4zM421.1,240.9l1.4,-1.4l1.4,1.4l-1.4,1.4zM415,245.7l1.4,-1.4l1.4,1.4l-1.4,1.4zM421.1,245.7l1.4,-1.4l1.4,1.4l-1.4,1.4zM415,250.5l1.4,-1.4l1.4,1.4l-1.4,1.4zM421.1,250.5l1.4,-1.4l1.4,1.4l-1.4,1.4zM415,255.3l1.4,-1.4l1.4,1.4l-1.4,1.4zM421.1,255.3l1.4,-1.4l1.4,1.4l-1.4,1.4zM415,260.1l1.4,-1.4l1.4,1.4l-1.4,1.4zM421.1,260.1l1.4,-1.4l1.4,1.4l-1.4,1.4zM603.9,227.5l1.4,-1.4l1.4,1.4l-1.4,1.4zM600.83,230.14l1.4,-1.4l1.4,1.4l-1.4,1.4zM597.76,232.79l1.4,-1.4l1.4,1.4l-1.4,1.4zM594.69,235.43l1.4,-1.4l1.4,1.4l-1.4,1.4zM591.61,238.07l1.4,-1.4l1.4,1.4l-1.4,1.4zM588.54,240.71l1.4,-1.4l1.4,1.4l-1.4,1.4zM585.47,243.36l1.4,-1.4l1.4,1.4l-1.4,1.4zM582.4,246l1.4,-1.4l1.4,1.4l-1.4,1.4zM604.9,236l1.4,-1.4l1.4,1.4l-1.4,1.4zM601.4,238.8l1.4,-1.4l1.4,1.4l-1.4,1.4zM597.9,241.6l1.4,-1.4l1.4,1.4l-1.4,1.4zM594.4,244.4l1.4,-1.4l1.4,1.4l-1.4,1.4zM590.9,247.2l1.4,-1.4l1.4,1.4l-1.4,1.4zM587.4,250l1.4,-1.4l1.4,1.4l-1.4,1.4zM587.4,272.5l1.4,-1.4l1.4,1.4l-1.4,1.4zM590.32,275.33l1.4,-1.4l1.4,1.4l-1.4,1.4zM593.23,278.17l1.4,-1.4l1.4,1.4l-1.4,1.4zM596.15,281l1.4,-1.4l1.4,1.4l-1.4,1.4zM599.07,283.83l1.4,-1.4l1.4,1.4l-1.4,1.4zM601.98,286.67l1.4,-1.4l1.4,1.4l-1.4,1.4zM604.9,289.5l1.4,-1.4l1.4,1.4l-1.4,1.4zM582.4,279l1.4,-1.4l1.4,1.4l-1.4,1.4zM585.47,281.71l1.4,-1.4l1.4,1.4l-1.4,1.4zM588.54,284.43l1.4,-1.4l1.4,1.4l-1.4,1.4zM591.61,287.14l1.4,-1.4l1.4,1.4l-1.4,1.4zM594.69,289.86l1.4,-1.4l1.4,1.4l-1.4,1.4zM597.76,292.57l1.4,-1.4l1.4,1.4l-1.4,1.4zM600.83,295.29l1.4,-1.4l1.4,1.4l-1.4,1.4zM603.9,298l1.4,-1.4l1.4,1.4l-1.4,1.4zM606.4,258.8l1.4,-1.4l1.4,1.4l-1.4,1.4zM606.4,267l1.4,-1.4l1.4,1.4l-1.4,1.4zM601.6,258.8l1.4,-1.4l1.4,1.4l-1.4,1.4zM601.6,267l1.4,-1.4l1.4,1.4l-1.4,1.4zM596.8,258.8l1.4,-1.4l1.4,1.4l-1.4,1.4zM596.8,267l1.4,-1.4l1.4,1.4l-1.4,1.4zM592,258.8l1.4,-1.4l1.4,1.4l-1.4,1.4zM592,267l1.4,-1.4l1.4,1.4l-1.4,1.4zM587.2,258.8l1.4,-1.4l1.4,1.4l-1.4,1.4zM587.2,267l1.4,-1.4l1.4,1.4l-1.4,1.4zM582.4,258.8l1.4,-1.4l1.4,1.4l-1.4,1.4zM582.4,267l1.4,-1.4l1.4,1.4l-1.4,1.4zM581.1,282.5l1.4,-1.4l1.4,1.4l-1.4,1.4zM581.1,287.25l1.4,-1.4l1.4,1.4l-1.4,1.4zM581.1,292l1.4,-1.4l1.4,1.4l-1.4,1.4zM581.1,296.75l1.4,-1.4l1.4,1.4l-1.4,1.4zM581.1,301.5l1.4,-1.4l1.4,1.4l-1.4,1.4zM581.1,306.25l1.4,-1.4l1.4,1.4l-1.4,1.4zM581.1,311l1.4,-1.4l1.4,1.4l-1.4,1.4zM573.5,58.5l1.4,-1.4l1.4,1.4l-1.4,1.4zM567.4,58.5l1.4,-1.4l1.4,1.4l-1.4,1.4zM573.5,63.3l1.4,-1.4l1.4,1.4l-1.4,1.4zM567.4,63.3l1.4,-1.4l1.4,1.4l-1.4,1.4zM573.5,68.1l1.4,-1.4l1.4,1.4l-1.4,1.4zM567.4,68.1l1.4,-1.4l1.4,1.4l-1.4,1.4zM573.5,72.9l1.4,-1.4l1.4,1.4l-1.4,1.4zM567.4,72.9l1.4,-1.4l1.4,1.4l-1.4,1.4zM573.5,77.7l1.4,-1.4l1.4,1.4l-1.4,1.4zM567.4,77.7l1.4,-1.4l1.4,1.4l-1.4,1.4zM573.5,82.5l1.4,-1.4l1.4,1.4l-1.4,1.4zM567.4,82.5l1.4,-1.4l1.4,1.4l-1.4,1.4zM573.5,87.3l1.4,-1.4l1.4,1.4l-1.4,1.4zM567.4,87.3l1.4,-1.4l1.4,1.4l-1.4,1.4zM573.5,92.1l1.4,-1.4l1.4,1.4l-1.4,1.4zM567.4,92.1l1.4,-1.4l1.4,1.4l-1.4,1.4zM573.5,96.9l1.4,-1.4l1.4,1.4l-1.4,1.4zM567.4,96.9l1.4,-1.4l1.4,1.4l-1.4,1.4zM573.5,101.7l1.4,-1.4l1.4,1.4l-1.4,1.4zM567.4,101.7l1.4,-1.4l1.4,1.4l-1.4,1.4zM573.5,106.5l1.4,-1.4l1.4,1.4l-1.4,1.4zM567.4,106.5l1.4,-1.4l1.4,1.4l-1.4,1.4zM573.5,111.3l1.4,-1.4l1.4,1.4l-1.4,1.4zM567.4,111.3l1.4,-1.4l1.4,1.4l-1.4,1.4zM573.5,116.1l1.4,-1.4l1.4,1.4l-1.4,1.4zM567.4,116.1l1.4,-1.4l1.4,1.4l-1.4,1.4zM573.5,120.9l1.4,-1.4l1.4,1.4l-1.4,1.4zM567.4,120.9l1.4,-1.4l1.4,1.4l-1.4,1.4zM573.5,125.7l1.4,-1.4l1.4,1.4l-1.4,1.4zM567.4,125.7l1.4,-1.4l1.4,1.4l-1.4,1.4zM573.5,130.5l1.4,-1.4l1.4,1.4l-1.4,1.4zM567.4,130.5l1.4,-1.4l1.4,1.4l-1.4,1.4zM573.5,135.3l1.4,-1.4l1.4,1.4l-1.4,1.4zM567.4,135.3l1.4,-1.4l1.4,1.4l-1.4,1.4zM573.5,140.1l1.4,-1.4l1.4,1.4l-1.4,1.4zM567.4,140.1l1.4,-1.4l1.4,1.4l-1.4,1.4zM573.5,144.9l1.4,-1.4l1.4,1.4l-1.4,1.4zM567.4,144.9l1.4,-1.4l1.4,1.4l-1.4,1.4zM573.5,149.7l1.4,-1.4l1.4,1.4l-1.4,1.4zM567.4,149.7l1.4,-1.4l1.4,1.4l-1.4,1.4zM573.5,154.5l1.4,-1.4l1.4,1.4l-1.4,1.4zM567.4,154.5l1.4,-1.4l1.4,1.4l-1.4,1.4zM573.5,159.3l1.4,-1.4l1.4,1.4l-1.4,1.4zM567.4,159.3l1.4,-1.4l1.4,1.4l-1.4,1.4zM573.5,164.1l1.4,-1.4l1.4,1.4l-1.4,1.4zM567.4,164.1l1.4,-1.4l1.4,1.4l-1.4,1.4zM573.5,168.9l1.4,-1.4l1.4,1.4l-1.4,1.4zM567.4,168.9l1.4,-1.4l1.4,1.4l-1.4,1.4zM573.5,173.7l1.4,-1.4l1.4,1.4l-1.4,1.4zM567.4,173.7l1.4,-1.4l1.4,1.4l-1.4,1.4zM573.5,178.5l1.4,-1.4l1.4,1.4l-1.4,1.4zM567.4,178.5l1.4,-1.4l1.4,1.4l-1.4,1.4zM573.5,183.3l1.4,-1.4l1.4,1.4l-1.4,1.4zM567.4,183.3l1.4,-1.4l1.4,1.4l-1.4,1.4zM573.5,188.1l1.4,-1.4l1.4,1.4l-1.4,1.4zM567.4,188.1l1.4,-1.4l1.4,1.4l-1.4,1.4zM573.5,192.9l1.4,-1.4l1.4,1.4l-1.4,1.4zM567.4,192.9l1.4,-1.4l1.4,1.4l-1.4,1.4zM573.5,197.7l1.4,-1.4l1.4,1.4l-1.4,1.4zM567.4,197.7l1.4,-1.4l1.4,1.4l-1.4,1.4zM573.5,202.5l1.4,-1.4l1.4,1.4l-1.4,1.4zM567.4,202.5l1.4,-1.4l1.4,1.4l-1.4,1.4zM573.5,207.3l1.4,-1.4l1.4,1.4l-1.4,1.4zM567.4,207.3l1.4,-1.4l1.4,1.4l-1.4,1.4zM573.5,212.1l1.4,-1.4l1.4,1.4l-1.4,1.4zM567.4,212.1l1.4,-1.4l1.4,1.4l-1.4,1.4zM573.5,216.9l1.4,-1.4l1.4,1.4l-1.4,1.4zM567.4,216.9l1.4,-1.4l1.4,1.4l-1.4,1.4zM573.5,221.7l1.4,-1.4l1.4,1.4l-1.4,1.4zM567.4,221.7l1.4,-1.4l1.4,1.4l-1.4,1.4zM573.5,226.5l1.4,-1.4l1.4,1.4l-1.4,1.4zM567.4,226.5l1.4,-1.4l1.4,1.4l-1.4,1.4zM573.5,231.3l1.4,-1.4l1.4,1.4l-1.4,1.4zM567.4,231.3l1.4,-1.4l1.4,1.4l-1.4,1.4zM573.5,236.1l1.4,-1.4l1.4,1.4l-1.4,1.4zM567.4,236.1l1.4,-1.4l1.4,1.4l-1.4,1.4zM573.5,240.9l1.4,-1.4l1.4,1.4l-1.4,1.4zM567.4,240.9l1.4,-1.4l1.4,1.4l-1.4,1.4zM573.5,245.7l1.4,-1.4l1.4,1.4l-1.4,1.4zM567.4,245.7l1.4,-1.4l1.4,1.4l-1.4,1.4zM573.5,250.5l1.4,-1.4l1.4,1.4l-1.4,1.4zM567.4,250.5l1.4,-1.4l1.4,1.4l-1.4,1.4zM573.5,255.3l1.4,-1.4l1.4,1.4l-1.4,1.4zM567.4,255.3l1.4,-1.4l1.4,1.4l-1.4,1.4zM573.5,260.1l1.4,-1.4l1.4,1.4l-1.4,1.4zM567.4,260.1l1.4,-1.4l1.4,1.4l-1.4,1.4zM433.1,61.8l1.4,-1.4l1.4,1.4l-1.4,1.4zM555.4,61.8l1.4,-1.4l1.4,1.4l-1.4,1.4zM441.9,91.3l1.4,-1.4l1.4,1.4l-1.4,1.4zM546.6,91.3l1.4,-1.4l1.4,1.4l-1.4,1.4zM433.1,101.3l1.4,-1.4l1.4,1.4l-1.4,1.4zM555.4,101.3l1.4,-1.4l1.4,1.4l-1.4,1.4zM451.9,123.5l1.4,-1.4l1.4,1.4l-1.4,1.4zM536.6,123.5l1.4,-1.4l1.4,1.4l-1.4,1.4zM433.1,140.2l1.4,-1.4l1.4,1.4l-1.4,1.4zM555.4,140.2l1.4,-1.4l1.4,1.4l-1.4,1.4zM461.9,155.5l1.4,-1.4l1.4,1.4l-1.4,1.4zM526.6,155.5l1.4,-1.4l1.4,1.4l-1.4,1.4zM433.1,180l1.4,-1.4l1.4,1.4l-1.4,1.4zM555.4,180l1.4,-1.4l1.4,1.4l-1.4,1.4zM471.9,187.8l1.4,-1.4l1.4,1.4l-1.4,1.4zM516.6,187.8l1.4,-1.4l1.4,1.4l-1.4,1.4zM433.1,219.7l1.4,-1.4l1.4,1.4l-1.4,1.4zM555.4,219.7l1.4,-1.4l1.4,1.4l-1.4,1.4zM481.9,219.7l1.4,-1.4l1.4,1.4l-1.4,1.4zM506.6,219.7l1.4,-1.4l1.4,1.4l-1.4,1.4zM433.1,258.3l1.4,-1.4l1.4,1.4l-1.4,1.4zM555.4,258.3l1.4,-1.4l1.4,1.4l-1.4,1.4zM468.3,258.3l1.4,-1.4l1.4,1.4l-1.4,1.4zM520.2,258.3l1.4,-1.4l1.4,1.4l-1.4,1.4zM479.9,258.3l1.4,-1.4l1.4,1.4l-1.4,1.4zM508.6,258.3l1.4,-1.4l1.4,1.4l-1.4,1.4zM488.9,230.3l1.4,-1.4l1.4,1.4l-1.4,1.4zM499.8,230.3l1.4,-1.4l1.4,1.4l-1.4,1.4zM485.6,234.7l1.4,-1.4l1.4,1.4l-1.4,1.4zM491.4,234.7l1.4,-1.4l1.4,1.4l-1.4,1.4zM497.3,234.7l1.4,-1.4l1.4,1.4l-1.4,1.4zM503.1,234.7l1.4,-1.4l1.4,1.4l-1.4,1.4zM487.4,242.5l1.4,-1.4l1.4,1.4l-1.4,1.4zM501.1,242.5l1.4,-1.4l1.4,1.4l-1.4,1.4zM489.1,250.5l1.4,-1.4l1.4,1.4l-1.4,1.4zM498.9,250.5l1.4,-1.4l1.4,1.4l-1.4,1.4zM485.6,258.3l1.4,-1.4l1.4,1.4l-1.4,1.4zM491.4,258.3l1.4,-1.4l1.4,1.4l-1.4,1.4zM497.3,258.3l1.4,-1.4l1.4,1.4l-1.4,1.4zM503.1,258.3l1.4,-1.4l1.4,1.4l-1.4,1.4zM180.8,665.3l1.4,-1.4l1.4,1.4l-1.4,1.4zM180.8,718.3l1.4,-1.4l1.4,1.4l-1.4,1.4zM187.35,665.3l1.4,-1.4l1.4,1.4l-1.4,1.4zM187.35,718.3l1.4,-1.4l1.4,1.4l-1.4,1.4zM193.9,665.3l1.4,-1.4l1.4,1.4l-1.4,1.4zM193.9,718.3l1.4,-1.4l1.4,1.4l-1.4,1.4zM200.45,665.3l1.4,-1.4l1.4,1.4l-1.4,1.4zM200.45,718.3l1.4,-1.4l1.4,1.4l-1.4,1.4zM207,665.3l1.4,-1.4l1.4,1.4l-1.4,1.4zM207,718.3l1.4,-1.4l1.4,1.4l-1.4,1.4zM180.8,671.92l1.4,-1.4l1.4,1.4l-1.4,1.4zM207,671.92l1.4,-1.4l1.4,1.4l-1.4,1.4zM180.8,678.55l1.4,-1.4l1.4,1.4l-1.4,1.4zM207,678.55l1.4,-1.4l1.4,1.4l-1.4,1.4zM180.8,685.17l1.4,-1.4l1.4,1.4l-1.4,1.4zM207,685.17l1.4,-1.4l1.4,1.4l-1.4,1.4zM180.8,691.8l1.4,-1.4l1.4,1.4l-1.4,1.4zM207,691.8l1.4,-1.4l1.4,1.4l-1.4,1.4zM180.8,698.42l1.4,-1.4l1.4,1.4l-1.4,1.4zM207,698.42l1.4,-1.4l1.4,1.4l-1.4,1.4zM180.8,705.05l1.4,-1.4l1.4,1.4l-1.4,1.4zM207,705.05l1.4,-1.4l1.4,1.4l-1.4,1.4zM180.8,711.67l1.4,-1.4l1.4,1.4l-1.4,1.4zM207,711.67l1.4,-1.4l1.4,1.4l-1.4,1.4zM400,665.3l1.4,-1.4l1.4,1.4l-1.4,1.4zM400,718.3l1.4,-1.4l1.4,1.4l-1.4,1.4zM406.6,665.3l1.4,-1.4l1.4,1.4l-1.4,1.4zM406.6,718.3l1.4,-1.4l1.4,1.4l-1.4,1.4zM413.2,665.3l1.4,-1.4l1.4,1.4l-1.4,1.4zM413.2,718.3l1.4,-1.4l1.4,1.4l-1.4,1.4zM419.8,665.3l1.4,-1.4l1.4,1.4l-1.4,1.4zM419.8,718.3l1.4,-1.4l1.4,1.4l-1.4,1.4zM426.4,665.3l1.4,-1.4l1.4,1.4l-1.4,1.4zM426.4,718.3l1.4,-1.4l1.4,1.4l-1.4,1.4zM400,671.92l1.4,-1.4l1.4,1.4l-1.4,1.4zM426.4,671.92l1.4,-1.4l1.4,1.4l-1.4,1.4zM400,678.55l1.4,-1.4l1.4,1.4l-1.4,1.4zM426.4,678.55l1.4,-1.4l1.4,1.4l-1.4,1.4zM400,685.17l1.4,-1.4l1.4,1.4l-1.4,1.4zM426.4,685.17l1.4,-1.4l1.4,1.4l-1.4,1.4zM400,691.8l1.4,-1.4l1.4,1.4l-1.4,1.4zM426.4,691.8l1.4,-1.4l1.4,1.4l-1.4,1.4zM400,698.42l1.4,-1.4l1.4,1.4l-1.4,1.4zM426.4,698.42l1.4,-1.4l1.4,1.4l-1.4,1.4zM400,705.05l1.4,-1.4l1.4,1.4l-1.4,1.4zM426.4,705.05l1.4,-1.4l1.4,1.4l-1.4,1.4zM400,711.67l1.4,-1.4l1.4,1.4l-1.4,1.4zM426.4,711.67l1.4,-1.4l1.4,1.4l-1.4,1.4zM226.5,665.3l1.4,-1.4l1.4,1.4l-1.4,1.4zM232.2,665.3l1.4,-1.4l1.4,1.4l-1.4,1.4zM226.5,671.92l1.4,-1.4l1.4,1.4l-1.4,1.4zM232.2,671.92l1.4,-1.4l1.4,1.4l-1.4,1.4zM226.5,678.55l1.4,-1.4l1.4,1.4l-1.4,1.4zM232.2,678.55l1.4,-1.4l1.4,1.4l-1.4,1.4zM226.5,685.17l1.4,-1.4l1.4,1.4l-1.4,1.4zM232.2,685.17l1.4,-1.4l1.4,1.4l-1.4,1.4zM226.5,691.8l1.4,-1.4l1.4,1.4l-1.4,1.4zM232.2,691.8l1.4,-1.4l1.4,1.4l-1.4,1.4zM226.5,698.42l1.4,-1.4l1.4,1.4l-1.4,1.4zM232.2,698.42l1.4,-1.4l1.4,1.4l-1.4,1.4zM226.5,705.05l1.4,-1.4l1.4,1.4l-1.4,1.4zM232.2,705.05l1.4,-1.4l1.4,1.4l-1.4,1.4zM226.5,711.67l1.4,-1.4l1.4,1.4l-1.4,1.4zM232.2,711.67l1.4,-1.4l1.4,1.4l-1.4,1.4zM226.5,718.3l1.4,-1.4l1.4,1.4l-1.4,1.4zM232.2,718.3l1.4,-1.4l1.4,1.4l-1.4,1.4zM375.1,665.3l1.4,-1.4l1.4,1.4l-1.4,1.4zM381.3,665.3l1.4,-1.4l1.4,1.4l-1.4,1.4zM375.1,671.92l1.4,-1.4l1.4,1.4l-1.4,1.4zM381.3,671.92l1.4,-1.4l1.4,1.4l-1.4,1.4zM375.1,678.55l1.4,-1.4l1.4,1.4l-1.4,1.4zM381.3,678.55l1.4,-1.4l1.4,1.4l-1.4,1.4zM375.1,685.17l1.4,-1.4l1.4,1.4l-1.4,1.4zM381.3,685.17l1.4,-1.4l1.4,1.4l-1.4,1.4zM375.1,691.8l1.4,-1.4l1.4,1.4l-1.4,1.4zM381.3,691.8l1.4,-1.4l1.4,1.4l-1.4,1.4zM375.1,698.42l1.4,-1.4l1.4,1.4l-1.4,1.4zM381.3,698.42l1.4,-1.4l1.4,1.4l-1.4,1.4zM375.1,705.05l1.4,-1.4l1.4,1.4l-1.4,1.4zM381.3,705.05l1.4,-1.4l1.4,1.4l-1.4,1.4zM375.1,711.67l1.4,-1.4l1.4,1.4l-1.4,1.4zM381.3,711.67l1.4,-1.4l1.4,1.4l-1.4,1.4zM375.1,718.3l1.4,-1.4l1.4,1.4l-1.4,1.4zM381.3,718.3l1.4,-1.4l1.4,1.4l-1.4,1.4zM68.1,729.5l1.4,-1.4l1.4,1.4l-1.4,1.4zM68.1,782l1.4,-1.4l1.4,1.4l-1.4,1.4zM73.85,729.5l1.4,-1.4l1.4,1.4l-1.4,1.4zM73.85,782l1.4,-1.4l1.4,1.4l-1.4,1.4zM79.6,729.5l1.4,-1.4l1.4,1.4l-1.4,1.4zM79.6,782l1.4,-1.4l1.4,1.4l-1.4,1.4zM91.6,729.5l1.4,-1.4l1.4,1.4l-1.4,1.4zM91.6,782l1.4,-1.4l1.4,1.4l-1.4,1.4zM96.95,729.5l1.4,-1.4l1.4,1.4l-1.4,1.4zM96.95,782l1.4,-1.4l1.4,1.4l-1.4,1.4zM102.3,729.5l1.4,-1.4l1.4,1.4l-1.4,1.4zM102.3,782l1.4,-1.4l1.4,1.4l-1.4,1.4zM107.65,729.5l1.4,-1.4l1.4,1.4l-1.4,1.4zM107.65,782l1.4,-1.4l1.4,1.4l-1.4,1.4zM119.9,729.5l1.4,-1.4l1.4,1.4l-1.4,1.4zM119.9,782l1.4,-1.4l1.4,1.4l-1.4,1.4zM125.65,729.5l1.4,-1.4l1.4,1.4l-1.4,1.4zM125.65,782l1.4,-1.4l1.4,1.4l-1.4,1.4zM131.4,729.5l1.4,-1.4l1.4,1.4l-1.4,1.4zM131.4,782l1.4,-1.4l1.4,1.4l-1.4,1.4zM143.9,729.5l1.4,-1.4l1.4,1.4l-1.4,1.4zM143.9,782l1.4,-1.4l1.4,1.4l-1.4,1.4zM149.65,729.5l1.4,-1.4l1.4,1.4l-1.4,1.4zM149.65,782l1.4,-1.4l1.4,1.4l-1.4,1.4zM155.4,729.5l1.4,-1.4l1.4,1.4l-1.4,1.4zM155.4,782l1.4,-1.4l1.4,1.4l-1.4,1.4zM238.1,729.5l1.4,-1.4l1.4,1.4l-1.4,1.4zM238.1,782l1.4,-1.4l1.4,1.4l-1.4,1.4zM243.85,729.5l1.4,-1.4l1.4,1.4l-1.4,1.4zM243.85,782l1.4,-1.4l1.4,1.4l-1.4,1.4zM249.6,729.5l1.4,-1.4l1.4,1.4l-1.4,1.4zM249.6,782l1.4,-1.4l1.4,1.4l-1.4,1.4zM261.9,729.5l1.4,-1.4l1.4,1.4l-1.4,1.4zM261.9,782l1.4,-1.4l1.4,1.4l-1.4,1.4zM267.65,729.5l1.4,-1.4l1.4,1.4l-1.4,1.4zM267.65,782l1.4,-1.4l1.4,1.4l-1.4,1.4zM273.4,729.5l1.4,-1.4l1.4,1.4l-1.4,1.4zM273.4,782l1.4,-1.4l1.4,1.4l-1.4,1.4zM285.8,729.5l1.4,-1.4l1.4,1.4l-1.4,1.4zM285.8,782l1.4,-1.4l1.4,1.4l-1.4,1.4zM291.55,729.5l1.4,-1.4l1.4,1.4l-1.4,1.4zM291.55,782l1.4,-1.4l1.4,1.4l-1.4,1.4zM297.3,729.5l1.4,-1.4l1.4,1.4l-1.4,1.4zM297.3,782l1.4,-1.4l1.4,1.4l-1.4,1.4zM309.4,729.5l1.4,-1.4l1.4,1.4l-1.4,1.4zM309.4,782l1.4,-1.4l1.4,1.4l-1.4,1.4zM315.15,729.5l1.4,-1.4l1.4,1.4l-1.4,1.4zM315.15,782l1.4,-1.4l1.4,1.4l-1.4,1.4zM320.9,729.5l1.4,-1.4l1.4,1.4l-1.4,1.4zM320.9,782l1.4,-1.4l1.4,1.4l-1.4,1.4zM333.3,729.5l1.4,-1.4l1.4,1.4l-1.4,1.4zM333.3,782l1.4,-1.4l1.4,1.4l-1.4,1.4zM339.05,729.5l1.4,-1.4l1.4,1.4l-1.4,1.4zM339.05,782l1.4,-1.4l1.4,1.4l-1.4,1.4zM344.8,729.5l1.4,-1.4l1.4,1.4l-1.4,1.4zM344.8,782l1.4,-1.4l1.4,1.4l-1.4,1.4zM356.9,729.5l1.4,-1.4l1.4,1.4l-1.4,1.4zM356.9,782l1.4,-1.4l1.4,1.4l-1.4,1.4zM362.65,729.5l1.4,-1.4l1.4,1.4l-1.4,1.4zM362.65,782l1.4,-1.4l1.4,1.4l-1.4,1.4zM368.4,729.5l1.4,-1.4l1.4,1.4l-1.4,1.4zM368.4,782l1.4,-1.4l1.4,1.4l-1.4,1.4zM386.9,729.5l1.4,-1.4l1.4,1.4l-1.4,1.4zM386.9,782l1.4,-1.4l1.4,1.4l-1.4,1.4zM392.65,729.5l1.4,-1.4l1.4,1.4l-1.4,1.4zM392.65,782l1.4,-1.4l1.4,1.4l-1.4,1.4zM433.6,729.5l1.4,-1.4l1.4,1.4l-1.4,1.4zM433.6,782l1.4,-1.4l1.4,1.4l-1.4,1.4zM439.35,729.5l1.4,-1.4l1.4,1.4l-1.4,1.4zM439.35,782l1.4,-1.4l1.4,1.4l-1.4,1.4zM451.6,729.5l1.4,-1.4l1.4,1.4l-1.4,1.4zM451.6,782l1.4,-1.4l1.4,1.4l-1.4,1.4zM457.35,729.5l1.4,-1.4l1.4,1.4l-1.4,1.4zM457.35,782l1.4,-1.4l1.4,1.4l-1.4,1.4zM463.1,729.5l1.4,-1.4l1.4,1.4l-1.4,1.4zM463.1,782l1.4,-1.4l1.4,1.4l-1.4,1.4zM475.3,729.5l1.4,-1.4l1.4,1.4l-1.4,1.4zM475.3,782l1.4,-1.4l1.4,1.4l-1.4,1.4zM481.05,729.5l1.4,-1.4l1.4,1.4l-1.4,1.4zM481.05,782l1.4,-1.4l1.4,1.4l-1.4,1.4zM486.8,729.5l1.4,-1.4l1.4,1.4l-1.4,1.4zM486.8,782l1.4,-1.4l1.4,1.4l-1.4,1.4zM498.9,729.5l1.4,-1.4l1.4,1.4l-1.4,1.4zM498.9,782l1.4,-1.4l1.4,1.4l-1.4,1.4zM504.25,729.5l1.4,-1.4l1.4,1.4l-1.4,1.4zM504.25,782l1.4,-1.4l1.4,1.4l-1.4,1.4zM509.6,729.5l1.4,-1.4l1.4,1.4l-1.4,1.4zM509.6,782l1.4,-1.4l1.4,1.4l-1.4,1.4zM514.95,729.5l1.4,-1.4l1.4,1.4l-1.4,1.4zM514.95,782l1.4,-1.4l1.4,1.4l-1.4,1.4zM527.3,729.5l1.4,-1.4l1.4,1.4l-1.4,1.4zM527.3,782l1.4,-1.4l1.4,1.4l-1.4,1.4zM533.05,729.5l1.4,-1.4l1.4,1.4l-1.4,1.4zM533.05,782l1.4,-1.4l1.4,1.4l-1.4,1.4zM538.8,729.5l1.4,-1.4l1.4,1.4l-1.4,1.4zM538.8,782l1.4,-1.4l1.4,1.4l-1.4,1.4zM1024.9,62.3l1.4,-1.4l1.4,1.4l-1.4,1.4zM1024.9,77.11l1.4,-1.4l1.4,1.4l-1.4,1.4zM1024.9,91.92l1.4,-1.4l1.4,1.4l-1.4,1.4zM1024.9,106.73l1.4,-1.4l1.4,1.4l-1.4,1.4zM1024.9,121.54l1.4,-1.4l1.4,1.4l-1.4,1.4zM1024.9,136.35l1.4,-1.4l1.4,1.4l-1.4,1.4zM1024.9,151.16l1.4,-1.4l1.4,1.4l-1.4,1.4zM1024.9,165.97l1.4,-1.4l1.4,1.4l-1.4,1.4zM1024.9,180.78l1.4,-1.4l1.4,1.4l-1.4,1.4zM1024.9,195.59l1.4,-1.4l1.4,1.4l-1.4,1.4zM1024.9,210.4l1.4,-1.4l1.4,1.4l-1.4,1.4zM1024.9,225.21l1.4,-1.4l1.4,1.4l-1.4,1.4zM1024.9,240.02l1.4,-1.4l1.4,1.4l-1.4,1.4zM1024.9,254.83l1.4,-1.4l1.4,1.4l-1.4,1.4zM1024.9,269.64l1.4,-1.4l1.4,1.4l-1.4,1.4zM1024.9,316.4l1.4,-1.4l1.4,1.4l-1.4,1.4zM1024.9,331.19l1.4,-1.4l1.4,1.4l-1.4,1.4zM1024.9,345.98l1.4,-1.4l1.4,1.4l-1.4,1.4zM1024.9,360.77l1.4,-1.4l1.4,1.4l-1.4,1.4zM1024.9,375.56l1.4,-1.4l1.4,1.4l-1.4,1.4zM1024.9,390.35l1.4,-1.4l1.4,1.4l-1.4,1.4zM1024.9,405.14l1.4,-1.4l1.4,1.4l-1.4,1.4zM1024.9,419.93l1.4,-1.4l1.4,1.4l-1.4,1.4zM1024.9,434.72l1.4,-1.4l1.4,1.4l-1.4,1.4zM1024.9,449.51l1.4,-1.4l1.4,1.4l-1.4,1.4zM1024.9,464.3l1.4,-1.4l1.4,1.4l-1.4,1.4zM1024.9,479.09l1.4,-1.4l1.4,1.4l-1.4,1.4zM1024.9,493.88l1.4,-1.4l1.4,1.4l-1.4,1.4zM1024.9,508.67l1.4,-1.4l1.4,1.4l-1.4,1.4zM1024.9,523.46l1.4,-1.4l1.4,1.4l-1.4,1.4z"/>
<g class="ro"><circle cx="287.5" cy="89.5" r="1.6"/><circle cx="294.23" cy="89.5" r="1.6"/><circle cx="300.97" cy="89.5" r="1.6"/><circle cx="307.7" cy="89.5" r="1.6"/><circle cx="314.43" cy="89.5" r="1.6"/><circle cx="321.17" cy="89.5" r="1.6"/><circle cx="327.9" cy="89.5" r="1.6"/><circle cx="334.63" cy="89.5" r="1.6"/><circle cx="341.37" cy="89.5" r="1.6"/><circle cx="348.1" cy="89.5" r="1.6"/><circle cx="354.83" cy="89.5" r="1.6"/><circle cx="361.57" cy="89.5" r="1.6"/><circle cx="368.3" cy="89.5" r="1.6"/><circle cx="375.03" cy="89.5" r="1.6"/><circle cx="381.77" cy="89.5" r="1.6"/><circle cx="388.5" cy="89.5" r="1.6"/><circle cx="395.23" cy="89.5" r="1.6"/><circle cx="401.97" cy="89.5" r="1.6"/><circle cx="408.7" cy="89.5" r="1.6"/><circle cx="313.7" cy="149.5" r="1.6"/><circle cx="320.46" cy="149.5" r="1.6"/><circle cx="327.21" cy="149.5" r="1.6"/><circle cx="333.97" cy="149.5" r="1.6"/><circle cx="340.73" cy="149.5" r="1.6"/><circle cx="347.49" cy="149.5" r="1.6"/><circle cx="354.24" cy="149.5" r="1.6"/><circle cx="361" cy="149.5" r="1.6"/><circle cx="367.76" cy="149.5" r="1.6"/><circle cx="374.51" cy="149.5" r="1.6"/><circle cx="381.27" cy="149.5" r="1.6"/><circle cx="388.03" cy="149.5" r="1.6"/><circle cx="394.79" cy="149.5" r="1.6"/><circle cx="401.54" cy="149.5" r="1.6"/><circle cx="408.3" cy="149.5" r="1.6"/><circle cx="287.5" cy="202.5" r="1.6"/><circle cx="294.12" cy="202.5" r="1.6"/><circle cx="300.75" cy="202.5" r="1.6"/><circle cx="307.38" cy="202.5" r="1.6"/><circle cx="314" cy="202.5" r="1.6"/><circle cx="320.62" cy="202.5" r="1.6"/><circle cx="327.25" cy="202.5" r="1.6"/><circle cx="333.88" cy="202.5" r="1.6"/><circle cx="340.5" cy="202.5" r="1.6"/><circle cx="373.8" cy="202.5" r="1.6"/><circle cx="380.54" cy="202.5" r="1.6"/><circle cx="387.28" cy="202.5" r="1.6"/><circle cx="394.02" cy="202.5" r="1.6"/><circle cx="400.76" cy="202.5" r="1.6"/><circle cx="407.5" cy="202.5" r="1.6"/><circle cx="282.5" cy="258.8" r="1.6"/><circle cx="289.29" cy="258.8" r="1.6"/><circle cx="296.07" cy="258.8" r="1.6"/><circle cx="302.86" cy="258.8" r="1.6"/><circle cx="309.64" cy="258.8" r="1.6"/><circle cx="316.43" cy="258.8" r="1.6"/><circle cx="323.21" cy="258.8" r="1.6"/><circle cx="330" cy="258.8" r="1.6"/><circle cx="336.79" cy="258.8" r="1.6"/><circle cx="343.57" cy="258.8" r="1.6"/><circle cx="350.36" cy="258.8" r="1.6"/><circle cx="357.14" cy="258.8" r="1.6"/><circle cx="363.93" cy="258.8" r="1.6"/><circle cx="370.71" cy="258.8" r="1.6"/><circle cx="377.5" cy="258.8" r="1.6"/><circle cx="282.5" cy="267" r="1.6"/><circle cx="289.29" cy="267" r="1.6"/><circle cx="296.07" cy="267" r="1.6"/><circle cx="302.86" cy="267" r="1.6"/><circle cx="309.64" cy="267" r="1.6"/><circle cx="316.43" cy="267" r="1.6"/><circle cx="323.21" cy="267" r="1.6"/><circle cx="330" cy="267" r="1.6"/><circle cx="336.79" cy="267" r="1.6"/><circle cx="343.57" cy="267" r="1.6"/><circle cx="350.36" cy="267" r="1.6"/><circle cx="357.14" cy="267" r="1.6"/><circle cx="363.93" cy="267" r="1.6"/><circle cx="370.71" cy="267" r="1.6"/><circle cx="377.5" cy="267" r="1.6"/><circle cx="282" cy="345.8" r="1.6"/><circle cx="288.6" cy="345.8" r="1.6"/><circle cx="295.2" cy="345.8" r="1.6"/><circle cx="301.8" cy="345.8" r="1.6"/><circle cx="308.4" cy="345.8" r="1.6"/><circle cx="315" cy="345.8" r="1.6"/><circle cx="347" cy="345.8" r="1.6"/><circle cx="353.3" cy="345.8" r="1.6"/><circle cx="359.6" cy="345.8" r="1.6"/><circle cx="365.9" cy="345.8" r="1.6"/><circle cx="372.2" cy="345.8" r="1.6"/><circle cx="378.5" cy="345.8" r="1.6"/><circle cx="384.8" cy="345.8" r="1.6"/><circle cx="391.1" cy="345.8" r="1.6"/><circle cx="397.4" cy="345.8" r="1.6"/><circle cx="403.7" cy="345.8" r="1.6"/><circle cx="410" cy="345.8" r="1.6"/><circle cx="275" cy="399.5" r="1.6"/><circle cx="281.6" cy="399.5" r="1.6"/><circle cx="287.5" cy="399.5" r="1.6"/><circle cx="293.95" cy="399.5" r="1.6"/><circle cx="300.39" cy="399.5" r="1.6"/><circle cx="306.84" cy="399.5" r="1.6"/><circle cx="313.29" cy="399.5" r="1.6"/><circle cx="319.74" cy="399.5" r="1.6"/><circle cx="326.18" cy="399.5" r="1.6"/><circle cx="332.63" cy="399.5" r="1.6"/><circle cx="339.08" cy="399.5" r="1.6"/><circle cx="345.53" cy="399.5" r="1.6"/><circle cx="351.97" cy="399.5" r="1.6"/><circle cx="358.42" cy="399.5" r="1.6"/><circle cx="364.87" cy="399.5" r="1.6"/><circle cx="371.32" cy="399.5" r="1.6"/><circle cx="377.76" cy="399.5" r="1.6"/><circle cx="384.21" cy="399.5" r="1.6"/><circle cx="390.66" cy="399.5" r="1.6"/><circle cx="397.11" cy="399.5" r="1.6"/><circle cx="403.55" cy="399.5" r="1.6"/><circle cx="410" cy="399.5" r="1.6"/><circle cx="275" cy="457" r="1.6"/><circle cx="281.75" cy="457" r="1.6"/><circle cx="288.5" cy="457" r="1.6"/><circle cx="295.25" cy="457" r="1.6"/><circle cx="302" cy="457" r="1.6"/><circle cx="308.75" cy="457" r="1.6"/><circle cx="315.5" cy="457" r="1.6"/><circle cx="322.25" cy="457" r="1.6"/><circle cx="329" cy="457" r="1.6"/><circle cx="335.75" cy="457" r="1.6"/><circle cx="342.5" cy="457" r="1.6"/><circle cx="349.25" cy="457" r="1.6"/><circle cx="356" cy="457" r="1.6"/><circle cx="362.75" cy="457" r="1.6"/><circle cx="369.5" cy="457" r="1.6"/><circle cx="376.25" cy="457" r="1.6"/><circle cx="383" cy="457" r="1.6"/><circle cx="389.75" cy="457" r="1.6"/><circle cx="396.5" cy="457" r="1.6"/><circle cx="403.25" cy="457" r="1.6"/><circle cx="410" cy="457" r="1.6"/><circle cx="286" cy="135" r="1.6"/><circle cx="290.88" cy="139.47" r="1.6"/><circle cx="295.77" cy="143.95" r="1.6"/><circle cx="300.65" cy="148.42" r="1.6"/><circle cx="305.54" cy="152.89" r="1.6"/><circle cx="310.42" cy="157.37" r="1.6"/><circle cx="315.31" cy="161.84" r="1.6"/><circle cx="320.19" cy="166.32" r="1.6"/><circle cx="325.07" cy="170.79" r="1.6"/><circle cx="329.96" cy="175.26" r="1.6"/><circle cx="334.84" cy="179.74" r="1.6"/><circle cx="339.73" cy="184.21" r="1.6"/><circle cx="344.61" cy="188.68" r="1.6"/><circle cx="349.49" cy="193.16" r="1.6"/><circle cx="354.38" cy="197.63" r="1.6"/><circle cx="359.26" cy="202.11" r="1.6"/><circle cx="364.15" cy="206.58" r="1.6"/><circle cx="369.03" cy="211.05" r="1.6"/><circle cx="373.92" cy="215.53" r="1.6"/><circle cx="378.8" cy="220" r="1.6"/><circle cx="285.5" cy="144.5" r="1.6"/><circle cx="290.41" cy="149" r="1.6"/><circle cx="295.32" cy="153.5" r="1.6"/><circle cx="300.23" cy="158" r="1.6"/><circle cx="305.14" cy="162.5" r="1.6"/><circle cx="310.05" cy="167" r="1.6"/><circle cx="314.96" cy="171.5" r="1.6"/><circle cx="319.87" cy="176" r="1.6"/><circle cx="324.78" cy="180.5" r="1.6"/><circle cx="329.69" cy="185" r="1.6"/><circle cx="334.61" cy="189.5" r="1.6"/><circle cx="339.52" cy="194" r="1.6"/><circle cx="344.43" cy="198.5" r="1.6"/><circle cx="349.34" cy="203" r="1.6"/><circle cx="354.25" cy="207.5" r="1.6"/><circle cx="359.16" cy="212" r="1.6"/><circle cx="364.07" cy="216.5" r="1.6"/><circle cx="368.98" cy="221" r="1.6"/><circle cx="373.89" cy="225.5" r="1.6"/><circle cx="378.8" cy="230" r="1.6"/><circle cx="378.8" cy="295" r="1.6"/><circle cx="373.66" cy="299.7" r="1.6"/><circle cx="368.52" cy="304.4" r="1.6"/><circle cx="363.38" cy="309.1" r="1.6"/><circle cx="358.24" cy="313.8" r="1.6"/><circle cx="353.1" cy="318.5" r="1.6"/><circle cx="347.96" cy="323.2" r="1.6"/><circle cx="342.82" cy="327.9" r="1.6"/><circle cx="337.68" cy="332.6" r="1.6"/><circle cx="332.54" cy="337.3" r="1.6"/><circle cx="327.4" cy="342" r="1.6"/><circle cx="322.26" cy="346.7" r="1.6"/><circle cx="317.12" cy="351.4" r="1.6"/><circle cx="311.98" cy="356.1" r="1.6"/><circle cx="306.84" cy="360.8" r="1.6"/><circle cx="301.7" cy="365.5" r="1.6"/><circle cx="296.56" cy="370.2" r="1.6"/><circle cx="291.42" cy="374.9" r="1.6"/><circle cx="286.28" cy="379.6" r="1.6"/><circle cx="281.14" cy="384.3" r="1.6"/><circle cx="276" cy="389" r="1.6"/><circle cx="378.8" cy="305.5" r="1.6"/><circle cx="373.65" cy="310.21" r="1.6"/><circle cx="368.51" cy="314.92" r="1.6"/><circle cx="363.36" cy="319.63" r="1.6"/><circle cx="358.21" cy="324.34" r="1.6"/><circle cx="353.06" cy="329.05" r="1.6"/><circle cx="347.92" cy="333.76" r="1.6"/><circle cx="342.77" cy="338.47" r="1.6"/><circle cx="337.62" cy="343.18" r="1.6"/><circle cx="332.47" cy="347.89" r="1.6"/><circle cx="327.33" cy="352.61" r="1.6"/><circle cx="322.18" cy="357.32" r="1.6"/><circle cx="317.03" cy="362.03" r="1.6"/><circle cx="311.88" cy="366.74" r="1.6"/><circle cx="306.74" cy="371.45" r="1.6"/><circle cx="301.59" cy="376.16" r="1.6"/><circle cx="296.44" cy="380.87" r="1.6"/><circle cx="291.29" cy="385.58" r="1.6"/><circle cx="286.15" cy="390.29" r="1.6"/><circle cx="281" cy="395" r="1.6"/><circle cx="703.8" cy="89.5" r="1.6"/><circle cx="697.07" cy="89.5" r="1.6"/><circle cx="690.33" cy="89.5" r="1.6"/><circle cx="683.6" cy="89.5" r="1.6"/><circle cx="676.87" cy="89.5" r="1.6"/><circle cx="670.13" cy="89.5" r="1.6"/><circle cx="663.4" cy="89.5" r="1.6"/><circle cx="656.67" cy="89.5" r="1.6"/><circle cx="649.93" cy="89.5" r="1.6"/><circle cx="643.2" cy="89.5" r="1.6"/><circle cx="636.47" cy="89.5" r="1.6"/><circle cx="629.73" cy="89.5" r="1.6"/><circle cx="623" cy="89.5" r="1.6"/><circle cx="616.27" cy="89.5" r="1.6"/><circle cx="609.53" cy="89.5" r="1.6"/><circle cx="602.8" cy="89.5" r="1.6"/><circle cx="596.07" cy="89.5" r="1.6"/><circle cx="589.33" cy="89.5" r="1.6"/><circle cx="582.6" cy="89.5" r="1.6"/><circle cx="677.6" cy="149.5" r="1.6"/><circle cx="670.84" cy="149.5" r="1.6"/><circle cx="664.09" cy="149.5" r="1.6"/><circle cx="657.33" cy="149.5" r="1.6"/><circle cx="650.57" cy="149.5" r="1.6"/><circle cx="643.81" cy="149.5" r="1.6"/><circle cx="637.06" cy="149.5" r="1.6"/><circle cx="630.3" cy="149.5" r="1.6"/><circle cx="623.54" cy="149.5" r="1.6"/><circle cx="616.79" cy="149.5" r="1.6"/><circle cx="610.03" cy="149.5" r="1.6"/><circle cx="603.27" cy="149.5" r="1.6"/><circle cx="596.51" cy="149.5" r="1.6"/><circle cx="589.76" cy="149.5" r="1.6"/><circle cx="583" cy="149.5" r="1.6"/><circle cx="703.8" cy="202.5" r="1.6"/><circle cx="697.17" cy="202.5" r="1.6"/><circle cx="690.55" cy="202.5" r="1.6"/><circle cx="683.92" cy="202.5" r="1.6"/><circle cx="677.3" cy="202.5" r="1.6"/><circle cx="670.67" cy="202.5" r="1.6"/><circle cx="664.05" cy="202.5" r="1.6"/><circle cx="657.42" cy="202.5" r="1.6"/><circle cx="650.8" cy="202.5" r="1.6"/><circle cx="617.5" cy="202.5" r="1.6"/><circle cx="610.76" cy="202.5" r="1.6"/><circle cx="604.02" cy="202.5" r="1.6"/><circle cx="597.28" cy="202.5" r="1.6"/><circle cx="590.54" cy="202.5" r="1.6"/><circle cx="583.8" cy="202.5" r="1.6"/><circle cx="708.8" cy="258.8" r="1.6"/><circle cx="702.01" cy="258.8" r="1.6"/><circle cx="695.23" cy="258.8" r="1.6"/><circle cx="688.44" cy="258.8" r="1.6"/><circle cx="681.66" cy="258.8" r="1.6"/><circle cx="674.87" cy="258.8" r="1.6"/><circle cx="668.09" cy="258.8" r="1.6"/><circle cx="661.3" cy="258.8" r="1.6"/><circle cx="654.51" cy="258.8" r="1.6"/><circle cx="647.73" cy="258.8" r="1.6"/><circle cx="640.94" cy="258.8" r="1.6"/><circle cx="634.16" cy="258.8" r="1.6"/><circle cx="627.37" cy="258.8" r="1.6"/><circle cx="620.59" cy="258.8" r="1.6"/><circle cx="613.8" cy="258.8" r="1.6"/><circle cx="708.8" cy="267" r="1.6"/><circle cx="702.01" cy="267" r="1.6"/><circle cx="695.23" cy="267" r="1.6"/><circle cx="688.44" cy="267" r="1.6"/><circle cx="681.66" cy="267" r="1.6"/><circle cx="674.87" cy="267" r="1.6"/><circle cx="668.09" cy="267" r="1.6"/><circle cx="661.3" cy="267" r="1.6"/><circle cx="654.51" cy="267" r="1.6"/><circle cx="647.73" cy="267" r="1.6"/><circle cx="640.94" cy="267" r="1.6"/><circle cx="634.16" cy="267" r="1.6"/><circle cx="627.37" cy="267" r="1.6"/><circle cx="620.59" cy="267" r="1.6"/><circle cx="613.8" cy="267" r="1.6"/><circle cx="709.3" cy="345.8" r="1.6"/><circle cx="702.7" cy="345.8" r="1.6"/><circle cx="696.1" cy="345.8" r="1.6"/><circle cx="689.5" cy="345.8" r="1.6"/><circle cx="682.9" cy="345.8" r="1.6"/><circle cx="676.3" cy="345.8" r="1.6"/><circle cx="644.3" cy="345.8" r="1.6"/><circle cx="638" cy="345.8" r="1.6"/><circle cx="631.7" cy="345.8" r="1.6"/><circle cx="625.4" cy="345.8" r="1.6"/><circle cx="619.1" cy="345.8" r="1.6"/><circle cx="612.8" cy="345.8" r="1.6"/><circle cx="606.5" cy="345.8" r="1.6"/><circle cx="600.2" cy="345.8" r="1.6"/><circle cx="593.9" cy="345.8" r="1.6"/><circle cx="587.6" cy="345.8" r="1.6"/><circle cx="581.3" cy="345.8" r="1.6"/><circle cx="716.3" cy="399.5" r="1.6"/><circle cx="709.7" cy="399.5" r="1.6"/><circle cx="703.8" cy="399.5" r="1.6"/><circle cx="697.35" cy="399.5" r="1.6"/><circle cx="690.91" cy="399.5" r="1.6"/><circle cx="684.46" cy="399.5" r="1.6"/><circle cx="678.01" cy="399.5" r="1.6"/><circle cx="671.56" cy="399.5" r="1.6"/><circle cx="665.12" cy="399.5" r="1.6"/><circle cx="658.67" cy="399.5" r="1.6"/><circle cx="652.22" cy="399.5" r="1.6"/><circle cx="645.77" cy="399.5" r="1.6"/><circle cx="639.33" cy="399.5" r="1.6"/><circle cx="632.88" cy="399.5" r="1.6"/><circle cx="626.43" cy="399.5" r="1.6"/><circle cx="619.98" cy="399.5" r="1.6"/><circle cx="613.54" cy="399.5" r="1.6"/><circle cx="607.09" cy="399.5" r="1.6"/><circle cx="600.64" cy="399.5" r="1.6"/><circle cx="594.19" cy="399.5" r="1.6"/><circle cx="587.75" cy="399.5" r="1.6"/><circle cx="581.3" cy="399.5" r="1.6"/><circle cx="716.3" cy="457" r="1.6"/><circle cx="709.55" cy="457" r="1.6"/><circle cx="702.8" cy="457" r="1.6"/><circle cx="696.05" cy="457" r="1.6"/><circle cx="689.3" cy="457" r="1.6"/><circle cx="682.55" cy="457" r="1.6"/><circle cx="675.8" cy="457" r="1.6"/><circle cx="669.05" cy="457" r="1.6"/><circle cx="662.3" cy="457" r="1.6"/><circle cx="655.55" cy="457" r="1.6"/><circle cx="648.8" cy="457" r="1.6"/><circle cx="642.05" cy="457" r="1.6"/><circle cx="635.3" cy="457" r="1.6"/><circle cx="628.55" cy="457" r="1.6"/><circle cx="621.8" cy="457" r="1.6"/><circle cx="615.05" cy="457" r="1.6"/><circle cx="608.3" cy="457" r="1.6"/><circle cx="601.55" cy="457" r="1.6"/><circle cx="594.8" cy="457" r="1.6"/><circle cx="588.05" cy="457" r="1.6"/><circle cx="581.3" cy="457" r="1.6"/><circle cx="574.9" cy="266.4" r="1.6"/><circle cx="574.9" cy="273.04" r="1.6"/><circle cx="574.9" cy="279.67" r="1.6"/><circle cx="574.9" cy="286.31" r="1.6"/><circle cx="574.9" cy="292.94" r="1.6"/><circle cx="574.9" cy="299.58" r="1.6"/><circle cx="574.9" cy="306.21" r="1.6"/><circle cx="574.9" cy="312.85" r="1.6"/><circle cx="574.9" cy="319.48" r="1.6"/><circle cx="574.9" cy="326.12" r="1.6"/><circle cx="574.9" cy="332.75" r="1.6"/><circle cx="574.9" cy="339.39" r="1.6"/><circle cx="574.9" cy="346.02" r="1.6"/><circle cx="574.9" cy="352.66" r="1.6"/><circle cx="574.9" cy="359.29" r="1.6"/><circle cx="574.9" cy="365.93" r="1.6"/><circle cx="574.9" cy="372.56" r="1.6"/><circle cx="574.9" cy="379.2" r="1.6"/><circle cx="574.9" cy="385.84" r="1.6"/><circle cx="574.9" cy="392.47" r="1.6"/><circle cx="574.9" cy="399.11" r="1.6"/><circle cx="574.9" cy="405.74" r="1.6"/><circle cx="574.9" cy="412.38" r="1.6"/><circle cx="574.9" cy="419.01" r="1.6"/><circle cx="574.9" cy="425.65" r="1.6"/><circle cx="574.9" cy="432.28" r="1.6"/><circle cx="574.9" cy="438.92" r="1.6"/><circle cx="574.9" cy="445.55" r="1.6"/><circle cx="574.9" cy="452.19" r="1.6"/><circle cx="574.9" cy="458.82" r="1.6"/><circle cx="574.9" cy="465.46" r="1.6"/><circle cx="574.9" cy="472.09" r="1.6"/><circle cx="574.9" cy="478.73" r="1.6"/><circle cx="574.9" cy="485.36" r="1.6"/><circle cx="574.9" cy="492" r="1.6"/><circle cx="705.3" cy="135" r="1.6"/><circle cx="700.42" cy="139.47" r="1.6"/><circle cx="695.53" cy="143.95" r="1.6"/><circle cx="690.65" cy="148.42" r="1.6"/><circle cx="685.76" cy="152.89" r="1.6"/><circle cx="680.88" cy="157.37" r="1.6"/><circle cx="675.99" cy="161.84" r="1.6"/><circle cx="671.11" cy="166.32" r="1.6"/><circle cx="666.23" cy="170.79" r="1.6"/><circle cx="661.34" cy="175.26" r="1.6"/><circle cx="656.46" cy="179.74" r="1.6"/><circle cx="651.57" cy="184.21" r="1.6"/><circle cx="646.69" cy="188.68" r="1.6"/><circle cx="641.81" cy="193.16" r="1.6"/><circle cx="636.92" cy="197.63" r="1.6"/><circle cx="632.04" cy="202.11" r="1.6"/><circle cx="627.15" cy="206.58" r="1.6"/><circle cx="622.27" cy="211.05" r="1.6"/><circle cx="617.38" cy="215.53" r="1.6"/><circle cx="612.5" cy="220" r="1.6"/><circle cx="705.8" cy="144.5" r="1.6"/><circle cx="700.89" cy="149" r="1.6"/><circle cx="695.98" cy="153.5" r="1.6"/><circle cx="691.07" cy="158" r="1.6"/><circle cx="686.16" cy="162.5" r="1.6"/><circle cx="681.25" cy="167" r="1.6"/><circle cx="676.34" cy="171.5" r="1.6"/><circle cx="671.43" cy="176" r="1.6"/><circle cx="666.52" cy="180.5" r="1.6"/><circle cx="661.61" cy="185" r="1.6"/><circle cx="656.69" cy="189.5" r="1.6"/><circle cx="651.78" cy="194" r="1.6"/><circle cx="646.87" cy="198.5" r="1.6"/><circle cx="641.96" cy="203" r="1.6"/><circle cx="637.05" cy="207.5" r="1.6"/><circle cx="632.14" cy="212" r="1.6"/><circle cx="627.23" cy="216.5" r="1.6"/><circle cx="622.32" cy="221" r="1.6"/><circle cx="617.41" cy="225.5" r="1.6"/><circle cx="612.5" cy="230" r="1.6"/><circle cx="612.5" cy="295" r="1.6"/><circle cx="617.64" cy="299.7" r="1.6"/><circle cx="622.78" cy="304.4" r="1.6"/><circle cx="627.92" cy="309.1" r="1.6"/><circle cx="633.06" cy="313.8" r="1.6"/><circle cx="638.2" cy="318.5" r="1.6"/><circle cx="643.34" cy="323.2" r="1.6"/><circle cx="648.48" cy="327.9" r="1.6"/><circle cx="653.62" cy="332.6" r="1.6"/><circle cx="658.76" cy="337.3" r="1.6"/><circle cx="663.9" cy="342" r="1.6"/><circle cx="669.04" cy="346.7" r="1.6"/><circle cx="674.18" cy="351.4" r="1.6"/><circle cx="679.32" cy="356.1" r="1.6"/><circle cx="684.46" cy="360.8" r="1.6"/><circle cx="689.6" cy="365.5" r="1.6"/><circle cx="694.74" cy="370.2" r="1.6"/><circle cx="699.88" cy="374.9" r="1.6"/><circle cx="705.02" cy="379.6" r="1.6"/><circle cx="710.16" cy="384.3" r="1.6"/><circle cx="715.3" cy="389" r="1.6"/><circle cx="612.5" cy="305.5" r="1.6"/><circle cx="617.65" cy="310.21" r="1.6"/><circle cx="622.79" cy="314.92" r="1.6"/><circle cx="627.94" cy="319.63" r="1.6"/><circle cx="633.09" cy="324.34" r="1.6"/><circle cx="638.24" cy="329.05" r="1.6"/><circle cx="643.38" cy="333.76" r="1.6"/><circle cx="648.53" cy="338.47" r="1.6"/><circle cx="653.68" cy="343.18" r="1.6"/><circle cx="658.83" cy="347.89" r="1.6"/><circle cx="663.97" cy="352.61" r="1.6"/><circle cx="669.12" cy="357.32" r="1.6"/><circle cx="674.27" cy="362.03" r="1.6"/><circle cx="679.42" cy="366.74" r="1.6"/><circle cx="684.56" cy="371.45" r="1.6"/><circle cx="689.71" cy="376.16" r="1.6"/><circle cx="694.86" cy="380.87" r="1.6"/><circle cx="700.01" cy="385.58" r="1.6"/><circle cx="705.15" cy="390.29" r="1.6"/><circle cx="710.3" cy="395" r="1.6"/></g>
<g class="rs"><circle cx="237.5" cy="593.9" r="1.5"/><circle cx="237.5" cy="603.9" r="1.5"/><circle cx="237.5" cy="613.9" r="1.5"/><circle cx="291.8" cy="593.9" r="1.5"/><circle cx="291.8" cy="603.9" r="1.5"/><circle cx="291.8" cy="613.9" r="1.5"/><circle cx="346.8" cy="593.9" r="1.5"/><circle cx="346.8" cy="603.9" r="1.5"/><circle cx="346.8" cy="613.9" r="1.5"/><circle cx="400.8" cy="593.9" r="1.5"/><circle cx="400.8" cy="603.9" r="1.5"/><circle cx="400.8" cy="613.9" r="1.5"/><circle cx="455.5" cy="593.9" r="1.5"/><circle cx="455.5" cy="603.9" r="1.5"/><circle cx="455.5" cy="613.9" r="1.5"/><circle cx="464.5" cy="593.9" r="1.5"/><circle cx="464.5" cy="603.9" r="1.5"/><circle cx="464.5" cy="613.9" r="1.5"/><circle cx="482" cy="593.9" r="1.5"/><circle cx="482" cy="603.9" r="1.5"/><circle cx="482" cy="613.9" r="1.5"/><circle cx="575.8" cy="593.9" r="1.5"/><circle cx="575.8" cy="603.9" r="1.5"/><circle cx="575.8" cy="613.9" r="1.5"/><circle cx="593.8" cy="593.9" r="1.5"/><circle cx="593.8" cy="603.9" r="1.5"/><circle cx="593.8" cy="613.9" r="1.5"/><circle cx="602.5" cy="593.9" r="1.5"/><circle cx="602.5" cy="603.9" r="1.5"/><circle cx="602.5" cy="613.9" r="1.5"/><circle cx="657" cy="593.9" r="1.5"/><circle cx="657" cy="603.9" r="1.5"/><circle cx="657" cy="613.9" r="1.5"/><circle cx="711.8" cy="593.9" r="1.5"/><circle cx="711.8" cy="603.9" r="1.5"/><circle cx="711.8" cy="613.9" r="1.5"/><circle cx="766.3" cy="593.9" r="1.5"/><circle cx="766.3" cy="603.9" r="1.5"/><circle cx="766.3" cy="613.9" r="1.5"/><circle cx="820.8" cy="593.9" r="1.5"/><circle cx="820.8" cy="603.9" r="1.5"/><circle cx="820.8" cy="613.9" r="1.5"/><circle cx="51.2" cy="531.7" r="1.5"/><circle cx="73" cy="531.7" r="1.5"/><circle cx="51.2" cy="553" r="1.5"/><circle cx="73" cy="553" r="1.5"/><circle cx="88.3" cy="531.7" r="1.5"/><circle cx="110.1" cy="531.7" r="1.5"/><circle cx="88.3" cy="553" r="1.5"/><circle cx="110.1" cy="553" r="1.5"/><circle cx="133.8" cy="615.2" r="1.5"/><circle cx="133.8" cy="632.8" r="1.5"/><circle cx="140.42" cy="615.2" r="1.5"/><circle cx="140.42" cy="632.8" r="1.5"/><circle cx="147.04" cy="615.2" r="1.5"/><circle cx="147.04" cy="632.8" r="1.5"/><circle cx="153.66" cy="615.2" r="1.5"/><circle cx="153.66" cy="632.8" r="1.5"/><circle cx="160.28" cy="615.2" r="1.5"/><circle cx="160.28" cy="632.8" r="1.5"/><circle cx="166.9" cy="615.2" r="1.5"/><circle cx="166.9" cy="632.8" r="1.5"/><circle cx="173.52" cy="615.2" r="1.5"/><circle cx="173.52" cy="632.8" r="1.5"/><circle cx="180.14" cy="615.2" r="1.5"/><circle cx="180.14" cy="632.8" r="1.5"/><circle cx="186.76" cy="615.2" r="1.5"/><circle cx="186.76" cy="632.8" r="1.5"/><circle cx="193.38" cy="615.2" r="1.5"/><circle cx="193.38" cy="632.8" r="1.5"/><circle cx="200" cy="615.2" r="1.5"/><circle cx="200" cy="632.8" r="1.5"/><circle cx="282" cy="541.5" r="1.5"/><circle cx="356.8" cy="542.2" r="1.5"/><circle cx="355.4" cy="534.6" r="1.5"/><circle cx="357.5" cy="549.4" r="1.5"/></g>
<text transform="translate(147.3,130.1) scale(0.84,1)" font-size="21.7">37</text>
<text transform="translate(142.4,229.2) scale(0.84,1)" font-size="21.7">38</text>
<text transform="translate(116.8,314.2) scale(0.84,1)" font-size="21.7">39</text>
<text transform="translate(822.4,130.3) scale(0.84,1)" font-size="21.7">37</text>
<text transform="translate(827.4,228.9) scale(0.84,1)" font-size="21.7">38</text>
<text transform="translate(853.9,314.6) scale(0.84,1)" font-size="21.7">40</text>
<text transform="translate(534.8,304.9) scale(0.84,1)" font-size="21.7">41</text>
<text transform="translate(509.6,353.4) scale(0.84,1)" font-size="21.7">42</text>
<text transform="translate(961,173.5) scale(0.84,1)" font-size="21.7">43</text>
<text transform="translate(961.8,428.5) scale(0.84,1)" font-size="21.7">44</text>
<text transform="translate(66.8,587.1) scale(0.84,1)" font-size="21.7">45</text>
<text transform="translate(373.6,549.9) scale(0.84,1)" font-size="21.7">46</text>
<text transform="translate(515,502) scale(0.84,1)" font-size="21.7">47</text>
<text transform="translate(706.8,557) scale(0.84,1)" font-size="21.7">48</text>
<text transform="translate(744.3,534.5) scale(0.84,1)" font-size="21.7">49</text>
<text transform="translate(955.5,563.6) scale(0.84,1)" font-size="21.7">50</text>
<text transform="translate(1044.2,624.6) scale(0.84,1)" font-size="21.7">51</text>
<text transform="translate(97.3,639.9) scale(0.84,1)" font-size="21.7">52</text>
<text transform="translate(45.6,646.1) scale(0.84,1)" font-size="21.7">53</text>
<text transform="translate(694.8,661.7) scale(0.84,1)" font-size="21.7">54</text>
<text transform="translate(740.5,651) scale(0.84,1)" font-size="21.7">55</text>
<text transform="translate(848.1,648.6) scale(0.84,1)" font-size="21.7">56</text>
<text transform="translate(833.8,779.9) scale(0.84,1)" font-size="21.7">57</text>
<text transform="translate(933,711.2) scale(0.84,1)" font-size="21.7">58</text>
<text transform="translate(1042.7,754.9) scale(0.84,1)" font-size="21.7">59</text>
</svg>
<div class="title">49 1519-LEPT2  B-24D radio compartment  1/48</div>
<div class="logo">eduard</div>
<div class="cp">© EDUARD 2025</div>
<div class="made">Made in Czech Republic</div>
<div class="bd"></div>
</body></html>
